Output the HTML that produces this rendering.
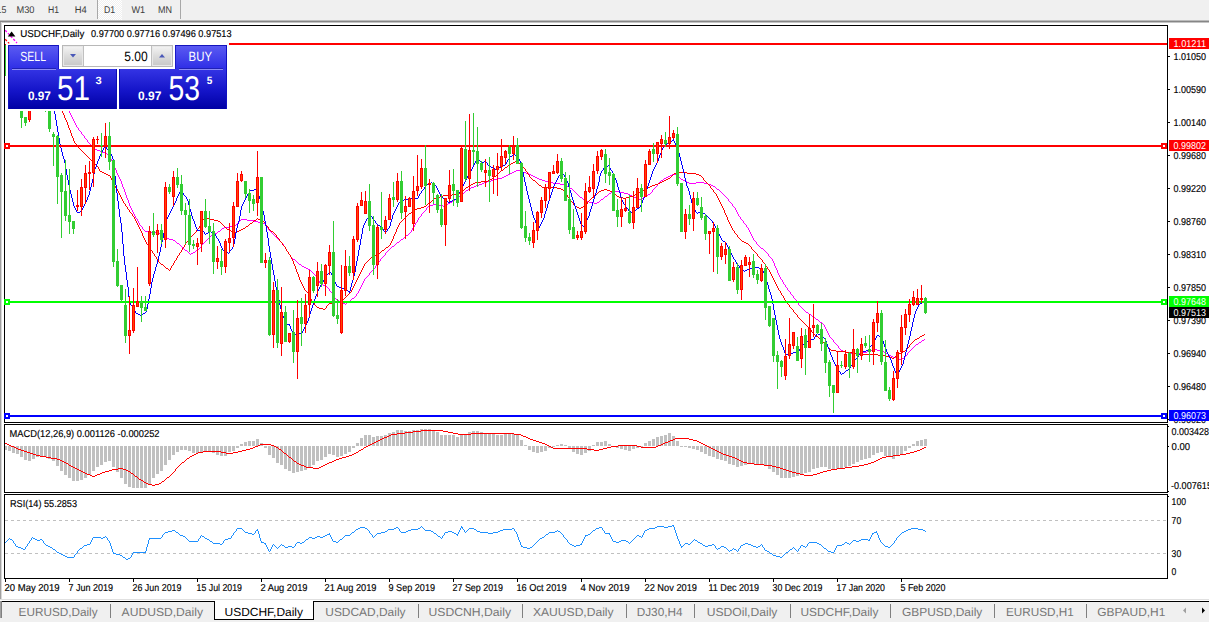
<!DOCTYPE html>
<html><head><meta charset="utf-8"><title>USDCHF Daily</title>
<style>html,body{margin:0;padding:0;background:#f0f0f0;font-family:"Liberation Sans",sans-serif;}body{width:1209px;height:622px;overflow:hidden;}svg{display:block;}</style></head>
<body>
<svg width="1209" height="622" viewBox="0 0 1209 622" shape-rendering="crispEdges" font-family="Liberation Sans, sans-serif" text-rendering="geometricPrecision">
<defs>
<linearGradient id="gbtn" x1="0" y1="0" x2="0" y2="1"><stop offset="0" stop-color="#5c5cf2"/><stop offset="1" stop-color="#2c2ce6"/></linearGradient>
<linearGradient id="gprice" x1="0" y1="0" x2="0" y2="1"><stop offset="0" stop-color="#3434e4"/><stop offset="0.55" stop-color="#1414c8"/><stop offset="1" stop-color="#0000a4"/></linearGradient>
<linearGradient id="gspin" x1="0" y1="0" x2="0" y2="1"><stop offset="0" stop-color="#f4f4f4"/><stop offset="0.5" stop-color="#dcdcdc"/><stop offset="1" stop-color="#c8c8c8"/></linearGradient>
<pattern id="hatch" width="2" height="2" patternUnits="userSpaceOnUse"><rect width="2" height="2" fill="#f0f0f0"/><rect width="1" height="1" fill="#fff"/><rect x="1" y="1" width="1" height="1" fill="#fff"/></pattern>
<clipPath id="cmain"><rect x="5" y="26" width="1162" height="396"/></clipPath>
<clipPath id="cmacd"><rect x="5" y="425" width="1162" height="67"/></clipPath>
<clipPath id="crsi"><rect x="5" y="495" width="1162" height="83"/></clipPath>
</defs>
<rect x="0" y="0" width="1209" height="622" fill="#f0f0f0"/>
<rect x="98" y="0" width="24" height="20" fill="url(#hatch)"/>
<rect x="97" y="0" width="1" height="19" fill="#a8a8a8"/>
<rect x="180" y="0" width="1" height="19" fill="#a8a8a8"/>
<text x="-3.5" y="13" font-size="9.8" fill="#3c3c3c" text-anchor="start" font-weight="normal" textLength="9.8" lengthAdjust="spacingAndGlyphs">15</text>
<text x="16.5" y="13" font-size="9.8" fill="#3c3c3c" text-anchor="start" font-weight="normal" textLength="18" lengthAdjust="spacingAndGlyphs">M30</text>
<text x="48" y="13" font-size="9.8" fill="#3c3c3c" text-anchor="start" font-weight="normal" textLength="11" lengthAdjust="spacingAndGlyphs">H1</text>
<text x="74.8" y="13" font-size="9.8" fill="#3c3c3c" text-anchor="start" font-weight="normal" textLength="12" lengthAdjust="spacingAndGlyphs">H4</text>
<text x="103.9" y="13" font-size="9.8" fill="#3c3c3c" text-anchor="start" font-weight="normal" textLength="11.2" lengthAdjust="spacingAndGlyphs">D1</text>
<text x="131.5" y="13" font-size="9.8" fill="#3c3c3c" text-anchor="start" font-weight="normal" textLength="13.7" lengthAdjust="spacingAndGlyphs">W1</text>
<text x="158" y="13" font-size="9.8" fill="#3c3c3c" text-anchor="start" font-weight="normal" textLength="14" lengthAdjust="spacingAndGlyphs">MN</text>
<rect x="0" y="20" width="1209" height="1" fill="#bcbcbc"/>
<rect x="0" y="21" width="1209" height="1" fill="#868686"/>
<rect x="0" y="22" width="1209" height="578" fill="#ffffff"/>
<rect x="0" y="22" width="1209" height="1" fill="#c4c4c4"/>
<rect x="0" y="22" width="1" height="600" fill="#a0a0a0"/>
<rect x="1" y="22" width="1" height="578" fill="#d8d8d8"/>
<rect x="4" y="25" width="1164" height="1" fill="#000"/>
<rect x="4" y="25" width="1" height="554" fill="#000"/>
<rect x="1167" y="25" width="1" height="554" fill="#000"/>
<rect x="4" y="422" width="1164" height="1" fill="#000"/>
<rect x="4" y="424" width="1164" height="1" fill="#000"/>
<rect x="4" y="492" width="1164" height="1" fill="#000"/>
<rect x="4" y="494" width="1164" height="1" fill="#000"/>
<rect x="4" y="578" width="1164" height="1" fill="#000"/>
<rect x="4" y="423" width="1" height="1" fill="#fff"/>
<rect x="1167" y="423" width="1" height="1" fill="#fff"/>
<rect x="4" y="493" width="1" height="1" fill="#fff"/>
<rect x="1167" y="493" width="1" height="1" fill="#fff"/>
<g clip-path="url(#cmain)">
<rect x="5" y="45" width="1" height="31" fill="#32cd32"/>
<polyline points="5.2,30.2 17.0,43.0" fill="none" stroke="#ff00ff" stroke-width="1.3" stroke-dasharray="2.4,1.6" shape-rendering="geometricPrecision"/>
<polyline points="5.2,39.2 9.2,43.4" fill="none" stroke="#ff0000" stroke-width="1.3" stroke-dasharray="2.4,1.6" shape-rendering="geometricPrecision"/>
<rect x="5" y="44" width="1" height="1" fill="#ff0000"/>
<path d="M193 252h2v1h-2zM482 183h2v1h-2zM553 183h7v1h-7zM689 183h7v1h-7zM704 183h4v1h-4zM102 152h3v1h-3zM514 171h2v1h-2zM520 171h3v1h-3zM609 193h2v1h-2zM624 193h4v1h-4zM504 176h2v1h-2zM533 176h2v1h-2zM668 176h2v1h-2zM677 176h2v1h-2zM429 205h4v1h-4zM439 205h4v1h-4zM445 205h2v1h-2zM352 298h2v1h-2zM611 192h4v1h-4zM619 192h5v1h-5zM637 198h2v1h-2zM641 198h2v1h-2zM177 243h2v1h-2zM586 201h3v1h-3zM323 285h2v1h-2zM162 235h2v1h-2zM211 235h2v1h-2zM406 235h2v1h-2zM258 222h4v1h-4zM160 234h2v1h-2zM213 234h2v1h-2zM173 240h2v1h-2zM191 253h2v1h-2zM302 266h2v1h-2zM848 353h14v1h-14zM886 353h2v1h-2zM450 202h2v1h-2zM589 202h5v1h-5zM597 202h2v1h-2zM306 268h2v1h-2zM510 173h2v1h-2zM526 173h3v1h-3zM479 184h3v1h-3zM560 184h5v1h-5zM708 184h3v1h-3zM491 180h3v1h-3zM542 180h3v1h-3zM661 180h2v1h-2zM683 180h2v1h-2zM222 228h2v1h-2zM471 187h3v1h-3zM841 350h2v1h-2zM871 350h2v1h-2zM877 350h4v1h-4zM149 232h7v1h-7zM601 199h2v1h-2zM639 199h2v1h-2zM308 269h2v1h-2zM484 182h3v1h-3zM549 182h4v1h-4zM687 182h2v1h-2zM696 182h8v1h-8zM224 227h6v1h-6zM339 301h2v1h-2zM145 231h4v1h-4zM218 231h2v1h-2zM397 242h2v1h-2zM487 181h4v1h-4zM545 181h4v1h-4zM685 181h2v1h-2zM341 302h2v1h-2zM347 302h2v1h-2zM916 344h2v1h-2zM843 351h3v1h-3zM867 351h4v1h-4zM881 351h3v1h-3zM392 246h2v1h-2zM615 191h4v1h-4zM896 358h2v1h-2zM902 358h2v1h-2zM498 178h4v1h-4zM537 178h2v1h-2zM664 178h2v1h-2zM325 286h2v1h-2zM508 174h2v1h-2zM529 174h2v1h-2zM672 174h4v1h-4zM247 220h7v1h-7zM304 267h2v1h-2zM343 303h2v1h-2zM898 359h4v1h-4zM336 299h2v1h-2zM889 355h2v1h-2zM506 175h2v1h-2zM531 175h2v1h-2zM670 175h2v1h-2zM494 179h4v1h-4zM539 179h3v1h-3zM681 179h2v1h-2zM605 196h2v1h-2zM632 196h2v1h-2zM448 203h2v1h-2zM594 203h3v1h-3zM476 185h3v1h-3zM565 185h2v1h-2zM711 185h2v1h-2zM516 170h4v1h-4zM299 264h2v1h-2zM846 352h2v1h-2zM862 352h5v1h-5zM884 352h2v1h-2zM321 284h2v1h-2zM156 233h4v1h-4zM215 233h2v1h-2zM893 357h3v1h-3zM241 219h6v1h-6zM254 221h4v1h-4zM469 188h2v1h-2zM570 188h2v1h-2zM169 239h4v1h-4zM401 239h2v1h-2zM230 226h5v1h-5zM873 349h4v1h-4zM761 248h2v1h-2zM717 189h2v1h-2zM262 223h3v1h-3zM474 186h2v1h-2zM567 186h2v1h-2zM713 186h2v1h-2zM630 195h2v1h-2zM646 195h2v1h-2zM433 204h6v1h-6zM453 200h2v1h-2zM584 200h2v1h-2zM457 197h2v1h-2zM580 197h2v1h-2zM634 197h3v1h-3zM643 197h2v1h-2zM502 177h2v1h-2zM535 177h2v1h-2zM666 177h2v1h-2zM185 250h2v1h-2zM196 250h2v1h-2zM167 238h2v1h-2zM816 319h2v1h-2zM97 150h3v1h-3zM461 194h2v1h-2zM628 194h2v1h-2zM648 194h2v1h-2zM293 259h2v1h-2zM809 314h2v1h-2zM512 172h2v1h-2zM523 172h3v1h-3zM100 151h2v1h-2zM922 340h2v1h-2zM466 190h2v1h-2zM891 356h2v1h-2zM95 149h2v1h-2zM165 237h2v1h-2zM443 206h2v1h-2zM820 322h2v1h-2zM919 342h2v1h-2zM813 317h2v1h-2zM105 153h2v1h-2zM806 312h2v1h-2zM808 313h1v1h-1zM116 170h1v3h-1zM376 265h1v1h-1zM721 192h1v1h-1zM127 198h1v2h-1zM76 125h1v2h-1zM198 249h1v1h-1zM396 243h1v1h-1zM361 285h1v2h-1zM793 296h1v2h-1zM419 217h1v1h-1zM274 235h1v1h-1zM221 229h1v1h-1zM138 221h1v2h-1zM826 329h1v2h-1zM400 240h1v1h-1zM767 253h1v1h-1zM80 131h1v1h-1zM775 266h1v2h-1zM113 163h1v3h-1zM368 275h1v1h-1zM371 271h1v1h-1zM134 214h1v2h-1zM142 227h1v2h-1zM768 254h1v2h-1zM51 81h1v2h-1zM123 187h1v2h-1zM583 199h1v1h-1zM131 208h1v2h-1zM728 199h1v2h-1zM749 230h1v2h-1zM415 223h1v2h-1zM360 287h1v2h-1zM384 255h1v1h-1zM281 242h1v1h-1zM924 339h1v1h-1zM427 207h1v1h-1zM201 245h1v2h-1zM282 243h1v1h-1zM652 190h1v2h-1zM189 253h1v1h-1zM379 261h1v1h-1zM267 227h1v1h-1zM190 254h1v1h-1zM75 123h1v2h-1zM411 230h1v2h-1zM356 294h1v2h-1zM72 117h1v2h-1zM829 335h1v2h-1zM822 323h1v1h-1zM137 219h1v2h-1zM833 340h1v2h-1zM774 263h1v3h-1zM715 187h1v1h-1zM803 309h1v1h-1zM823 324h1v1h-1zM387 251h1v1h-1zM727 198h1v1h-1zM90 144h1v1h-1zM756 242h1v2h-1zM716 188h1v1h-1zM745 224h1v1h-1zM54 86h1v2h-1zM804 310h1v1h-1zM266 226h1v1h-1zM655 187h1v1h-1zM840 349h1v1h-1zM658 183h1v1h-1zM285 247h1v2h-1zM572 189h1v1h-1zM913 347h1v1h-1zM464 192h1v1h-1zM126 195h1v3h-1zM792 295h1v1h-1zM578 195h1v1h-1zM79 130h1v1h-1zM314 274h1v1h-1zM422 213h1v1h-1zM468 189h1v1h-1zM579 196h1v1h-1zM825 327h1v2h-1zM140 225h1v1h-1zM796 300h1v2h-1zM828 333h1v2h-1zM115 168h1v2h-1zM133 212h1v2h-1zM141 226h1v1h-1zM770 257h1v1h-1zM108 155h1v2h-1zM239 221h1v1h-1zM57 91h1v2h-1zM65 104h1v2h-1zM752 236h1v2h-1zM68 109h1v2h-1zM771 258h1v1h-1zM755 241h1v1h-1zM375 266h1v2h-1zM50 80h1v1h-1zM130 206h1v2h-1zM265 224h1v2h-1zM748 228h1v2h-1zM288 252h1v2h-1zM391 247h1v1h-1zM269 230h1v1h-1zM818 320h1v1h-1zM208 238h1v1h-1zM78 128h1v2h-1zM220 230h1v1h-1zM763 249h1v1h-1zM824 325h1v2h-1zM832 339h1v1h-1zM71 115h1v2h-1zM295 260h1v1h-1zM795 299h1v1h-1zM367 276h1v1h-1zM911 349h1v1h-1zM769 256h1v1h-1zM82 134h1v1h-1zM60 96h1v2h-1zM414 225h1v2h-1zM132 210h1v2h-1zM184 249h1v1h-1zM729 201h1v1h-1zM112 161h1v2h-1zM908 352h1v1h-1zM604 197h1v1h-1zM53 85h1v1h-1zM56 89h1v2h-1zM64 103h1v1h-1zM730 202h1v1h-1zM751 234h1v2h-1zM122 184h1v3h-1zM608 194h1v1h-1zM418 218h1v2h-1zM421 214h1v2h-1zM313 273h1v1h-1zM284 246h1v1h-1zM378 262h1v1h-1zM119 177h1v2h-1zM81 132h1v2h-1zM317 278h1v2h-1zM125 192h1v3h-1zM74 121h1v2h-1zM370 272h1v1h-1zM680 178h1v1h-1zM114 166h1v2h-1zM722 193h1v1h-1zM831 338h1v1h-1zM657 184h1v2h-1zM143 229h1v1h-1zM107 154h1v1h-1zM70 113h1v2h-1zM799 305h1v1h-1zM773 261h1v2h-1zM386 252h1v1h-1zM63 101h1v2h-1zM283 244h1v2h-1zM455 199h1v1h-1zM111 159h1v2h-1zM200 247h1v1h-1zM286 249h1v2h-1zM52 83h1v2h-1zM129 203h1v3h-1zM203 243h1v1h-1zM447 204h1v1h-1zM654 188h1v1h-1zM424 211h1v1h-1zM747 227h1v1h-1zM750 232h1v2h-1zM758 245h1v1h-1zM459 196h1v1h-1zM381 258h1v1h-1zM287 251h1v1h-1zM327 287h1v1h-1zM573 190h1v1h-1zM268 228h1v2h-1zM780 277h1v2h-1zM328 288h1v1h-1zM574 191h1v1h-1zM783 282h1v2h-1zM794 298h1v1h-1zM118 175h1v2h-1zM345 304h1v1h-1zM784 284h1v1h-1zM389 249h1v1h-1zM275 236h1v1h-1zM907 353h1v2h-1zM827 331h1v2h-1zM73 119h1v2h-1zM404 237h1v1h-1zM798 303h1v2h-1zM276 237h1v1h-1zM660 181h1v1h-1zM181 246h1v1h-1zM55 88h1v1h-1zM772 259h1v2h-1zM417 220h1v2h-1zM59 94h1v2h-1zM67 107h1v2h-1zM732 204h1v2h-1zM740 217h1v2h-1zM915 345h1v1h-1zM210 236h1v1h-1zM290 255h1v2h-1zM733 206h1v1h-1zM463 193h1v1h-1zM746 225h1v2h-1zM736 210h1v2h-1zM805 311h1v1h-1zM92 146h1v1h-1zM121 181h1v3h-1zM676 175h1v1h-1zM369 273h1v2h-1zM316 276h1v2h-1zM779 275h1v2h-1zM787 288h1v2h-1zM645 196h1v1h-1zM319 281h1v2h-1zM349 301h1v1h-1zM320 283h1v1h-1zM179 244h1v1h-1zM364 279h1v2h-1zM408 234h1v1h-1zM69 111h1v2h-1zM599 201h1v1h-1zM180 245h1v1h-1zM834 342h1v1h-1zM765 251h1v1h-1zM62 99h1v2h-1zM377 263h1v2h-1zM569 187h1v1h-1zM91 145h1v1h-1zM603 198h1v1h-1zM110 158h1v1h-1zM338 300h1v1h-1zM835 343h1v1h-1zM66 106h1v1h-1zM289 254h1v1h-1zM301 265h1v1h-1zM830 337h1v1h-1zM207 239h1v1h-1zM782 280h1v2h-1zM120 179h1v2h-1zM128 200h1v3h-1zM315 275h1v1h-1zM786 287h1v1h-1zM819 321h1v1h-1zM921 341h1v1h-1zM910 350h1v1h-1zM797 302h1v1h-1zM84 136h1v2h-1zM124 189h1v3h-1zM764 250h1v1h-1zM164 236h1v1h-1zM195 251h1v1h-1zM109 157h1v1h-1zM724 195h1v1h-1zM905 356h1v1h-1zM58 93h1v1h-1zM61 98h1v1h-1zM420 216h1v1h-1zM738 214h1v2h-1zM423 212h1v1h-1zM815 318h1v1h-1zM236 224h1v1h-1zM731 203h1v1h-1zM739 216h1v1h-1zM329 289h1v2h-1zM372 270h1v1h-1zM175 241h1v1h-1zM395 244h1v1h-1zM778 273h1v2h-1zM270 231h1v1h-1zM330 291h1v1h-1zM176 242h1v1h-1zM117 173h1v2h-1zM271 232h1v1h-1zM388 250h1v1h-1zM790 292h1v2h-1zM359 289h1v2h-1zM205 241h1v1h-1zM296 261h1v1h-1zM656 186h1v1h-1zM426 208h1v2h-1zM465 191h1v1h-1zM83 135h1v1h-1zM277 238h1v1h-1zM380 259h1v2h-1zM383 256h1v1h-1zM202 244h1v1h-1zM297 262h1v1h-1zM720 191h1v1h-1zM144 230h1v1h-1zM800 306h1v1h-1zM278 239h1v1h-1zM87 140h1v2h-1zM651 192h1v1h-1zM735 208h1v2h-1zM410 232h1v1h-1zM785 285h1v2h-1zM399 241h1v1h-1zM94 148h1v1h-1zM318 280h1v1h-1zM760 247h1v1h-1zM781 279h1v1h-1zM403 238h1v1h-1zM575 192h1v1h-1zM659 182h1v1h-1zM723 194h1v1h-1zM663 179h1v1h-1zM811 315h1v1h-1zM737 212h1v2h-1zM182 247h1v1h-1zM836 344h1v1h-1zM93 147h1v1h-1zM759 246h1v1h-1zM837 345h1v1h-1zM741 219h1v1h-1zM912 348h1v1h-1zM351 299h1v1h-1zM291 257h1v1h-1zM310 270h1v1h-1zM363 281h1v2h-1zM734 207h1v1h-1zM452 201h1v1h-1zM240 220h1v1h-1zM292 258h1v1h-1zM311 271h1v1h-1zM332 293h1v2h-1zM355 296h1v1h-1zM777 270h1v3h-1zM788 290h1v1h-1zM719 190h1v1h-1zM85 138h1v1h-1zM374 268h1v1h-1zM904 357h1v1h-1zM86 139h1v1h-1zM209 237h1v1h-1zM390 248h1v1h-1zM888 354h1v1h-1zM582 198h1v1h-1zM358 291h1v2h-1zM456 198h1v1h-1zM385 253h1v2h-1zM331 292h1v1h-1zM273 234h1v1h-1zM766 252h1v1h-1zM235 225h1v1h-1zM298 263h1v1h-1zM362 283h1v2h-1zM394 245h1v1h-1zM89 143h1v1h-1zM744 223h1v1h-1zM366 277h1v1h-1zM413 227h1v1h-1zM204 242h1v1h-1zM335 298h1v1h-1zM425 210h1v1h-1zM428 206h1v1h-1zM238 222h1v1h-1zM460 195h1v1h-1zM382 257h1v1h-1zM272 233h1v1h-1zM791 294h1v1h-1zM577 194h1v1h-1zM607 195h1v1h-1zM199 248h1v1h-1zM650 193h1v1h-1zM725 196h1v1h-1zM776 268h1v2h-1zM653 189h1v1h-1zM139 223h1v2h-1zM346 303h1v1h-1zM726 197h1v1h-1zM838 346h1v2h-1zM279 240h1v1h-1zM405 236h1v1h-1zM350 300h1v1h-1zM839 348h1v1h-1zM743 221h1v2h-1zM802 308h1v1h-1zM280 241h1v1h-1zM187 251h1v1h-1zM409 233h1v1h-1zM188 252h1v1h-1zM334 296h1v2h-1zM416 222h1v1h-1zM914 346h1v1h-1zM801 307h1v1h-1zM135 216h1v2h-1zM812 316h1v1h-1zM88 142h1v1h-1zM753 238h1v2h-1zM918 343h1v1h-1zM136 218h1v1h-1zM754 240h1v1h-1zM354 297h1v1h-1zM412 228h1v2h-1zM357 293h1v1h-1zM600 200h1v1h-1zM576 193h1v1h-1zM312 272h1v1h-1zM333 295h1v1h-1zM373 269h1v1h-1zM77 127h1v1h-1zM217 232h1v1h-1zM679 177h1v1h-1zM183 248h1v1h-1zM206 240h1v1h-1zM742 220h1v1h-1zM365 278h1v1h-1zM906 355h1v1h-1zM909 351h1v1h-1zM757 244h1v1h-1zM789 291h1v1h-1zM237 223h1v1h-1z" fill="#ff00ff"/>
<path d="M922 335h2v1h-2zM613 193h2v1h-2zM637 193h2v1h-2zM206 218h4v1h-4zM481 181h7v1h-7zM662 181h2v1h-2zM417 208h4v1h-4zM579 208h2v1h-2zM436 197h4v1h-4zM619 197h4v1h-4zM626 197h4v1h-4zM421 207h3v1h-3zM577 207h2v1h-2zM581 207h2v1h-2zM601 190h3v1h-3zM607 190h3v1h-3zM643 190h2v1h-2zM466 187h2v1h-2zM542 187h15v1h-15zM648 187h2v1h-2zM443 195h9v1h-9zM594 195h2v1h-2zM633 195h2v1h-2zM378 253h2v1h-2zM505 167h2v1h-2zM471 184h2v1h-2zM655 184h3v1h-3zM104 173h2v1h-2zM674 173h3v1h-3zM687 173h9v1h-9zM856 354h22v1h-22zM452 194h7v1h-7zM635 194h2v1h-2zM845 352h7v1h-7zM901 352h2v1h-2zM232 232h2v1h-2zM235 232h2v1h-2zM386 247h2v1h-2zM468 186h2v1h-2zM650 186h2v1h-2zM461 191h2v1h-2zM599 191h2v1h-2zM610 191h2v1h-2zM641 191h2v1h-2zM744 242h2v1h-2zM227 229h2v1h-2zM241 229h2v1h-2zM440 196h3v1h-3zM617 196h2v1h-2zM630 196h3v1h-3zM473 183h2v1h-2zM658 183h2v1h-2zM218 221h2v1h-2zM262 221h2v1h-2zM424 206h2v1h-2zM575 206h2v1h-2zM583 206h2v1h-2zM746 243h2v1h-2zM246 226h2v1h-2zM639 192h2v1h-2zM490 179h2v1h-2zM666 179h2v1h-2zM475 182h6v1h-6zM660 182h2v1h-2zM319 308h4v1h-4zM557 188h4v1h-4zM646 188h2v1h-2zM434 198h2v1h-2zM623 198h3v1h-3zM214 220h4v1h-4zM254 220h2v1h-2zM260 220h2v1h-2zM203 219h3v1h-3zM210 219h4v1h-4zM258 219h2v1h-2zM108 175h2v1h-2zM699 175h2v1h-2zM375 255h2v1h-2zM915 339h2v1h-2zM102 172h2v1h-2zM677 172h10v1h-10zM878 355h7v1h-7zM831 350h5v1h-5zM889 357h3v1h-3zM323 309h2v1h-2zM243 228h2v1h-2zM333 302h5v1h-5zM836 351h9v1h-9zM903 351h2v1h-2zM237 231h2v1h-2zM271 231h2v1h-2zM668 178h2v1h-2zM539 185h2v1h-2zM652 185h3v1h-3zM340 300h2v1h-2zM488 180h2v1h-2zM533 180h2v1h-2zM664 180h2v1h-2zM885 356h4v1h-4zM895 356h2v1h-2zM494 176h2v1h-2zM250 223h2v1h-2zM100 171h2v1h-2zM511 163h2v1h-2zM816 336h2v1h-2zM920 336h2v1h-2zM371 257h2v1h-2zM501 170h2v1h-2zM415 209h2v1h-2zM229 230h2v1h-2zM239 230h2v1h-2zM515 161h2v1h-2zM106 174h2v1h-2zM696 174h3v1h-3zM852 353h4v1h-4zM899 353h2v1h-2zM317 307h2v1h-2zM892 358h2v1h-2zM513 162h2v1h-2zM517 162h2v1h-2zM166 268h2v1h-2zM409 213h2v1h-2zM342 299h2v1h-2zM161 264h2v1h-2zM561 189h2v1h-2zM604 189h3v1h-3zM373 256h2v1h-2zM329 303h4v1h-4zM413 210h2v1h-2zM382 250h2v1h-2zM338 301h2v1h-2zM742 241h2v1h-2zM509 164h2v1h-2zM429 202h2v1h-2zM917 338h2v1h-2zM72 136h1v2h-1zM914 340h1v1h-1zM749 245h1v1h-1zM349 293h1v1h-1zM352 288h1v2h-1zM568 197h1v1h-1zM127 207h1v2h-1zM97 166h1v1h-1zM58 92h1v5h-1zM179 253h1v2h-1zM400 222h1v1h-1zM117 189h1v2h-1zM120 195h1v2h-1zM909 345h1v2h-1zM727 217h1v3h-1zM756 253h1v1h-1zM98 167h1v2h-1zM54 75h1v5h-1zM527 172h1v2h-1zM51 63h1v4h-1zM62 109h1v4h-1zM141 231h1v2h-1zM183 247h1v1h-1zM281 242h1v1h-1zM299 277h1v3h-1zM396 229h1v3h-1zM361 270h1v2h-1zM68 125h1v3h-1zM126 206h1v1h-1zM282 243h1v2h-1zM138 225h1v2h-1zM598 192h1v1h-1zM748 244h1v1h-1zM119 193h1v2h-1zM898 354h1v1h-1zM325 308h1v1h-1zM194 233h1v1h-1zM591 198h1v1h-1zM115 186h1v2h-1zM395 232h1v2h-1zM821 340h1v1h-1zM407 215h1v1h-1zM741 240h1v1h-1zM924 334h1v1h-1zM116 188h1v1h-1zM778 288h1v2h-1zM822 341h1v1h-1zM586 204h1v1h-1zM894 357h1v1h-1zM792 309h1v1h-1zM295 266h1v3h-1zM313 302h1v1h-1zM811 330h1v2h-1zM61 105h1v4h-1zM159 262h1v1h-1zM499 172h1v1h-1zM344 298h1v1h-1zM708 184h1v1h-1zM465 188h1v1h-1zM356 280h1v2h-1zM828 347h1v1h-1zM285 247h1v2h-1zM298 274h1v3h-1zM392 239h1v2h-1zM492 178h1v1h-1zM709 185h1v1h-1zM616 195h1v1h-1zM829 348h1v1h-1zM57 88h1v4h-1zM220 222h1v1h-1zM197 229h1v1h-1zM137 223h1v2h-1zM671 176h1v1h-1zM78 147h1v1h-1zM118 191h1v2h-1zM567 195h1v2h-1zM221 223h1v1h-1zM570 199h1v2h-1zM130 212h1v1h-1zM803 322h1v1h-1zM71 133h1v3h-1zM79 148h1v1h-1zM368 260h1v1h-1zM726 215h1v2h-1zM411 212h1v1h-1zM519 163h1v1h-1zM571 201h1v1h-1zM182 248h1v2h-1zM380 252h1v1h-1zM112 180h1v2h-1zM525 169h1v2h-1zM360 272h1v2h-1zM701 176h1v1h-1zM759 257h1v1h-1zM781 293h1v2h-1zM85 154h1v1h-1zM363 266h1v2h-1zM589 200h1v1h-1zM67 122h1v3h-1zM503 169h1v1h-1zM526 171h1v1h-1zM50 60h1v3h-1zM201 222h1v2h-1zM723 208h1v2h-1zM86 155h1v1h-1zM158 260h1v2h-1zM186 242h1v1h-1zM189 238h1v2h-1zM292 259h1v2h-1zM433 199h1v1h-1zM507 166h1v1h-1zM265 223h1v2h-1zM795 313h1v1h-1zM399 223h1v2h-1zM496 175h1v1h-1zM129 210h1v2h-1zM60 101h1v4h-1zM231 231h1v1h-1zM402 220h1v1h-1zM769 270h1v2h-1zM140 229h1v2h-1zM288 252h1v2h-1zM426 205h1v1h-1zM266 225h1v1h-1zM56 84h1v4h-1zM125 204h1v2h-1zM64 115h1v3h-1zM93 162h1v1h-1zM751 247h1v2h-1zM165 267h1v1h-1zM802 321h1v1h-1zM752 249h1v1h-1zM725 213h1v2h-1zM784 298h1v2h-1zM273 232h1v1h-1zM294 264h1v2h-1zM111 178h1v2h-1zM529 175h1v2h-1zM777 286h1v2h-1zM612 192h1v1h-1zM172 265h1v1h-1zM809 328h1v1h-1zM316 306h1v1h-1zM722 206h1v2h-1zM810 329h1v1h-1zM351 290h1v2h-1zM394 234h1v2h-1zM291 257h1v2h-1zM711 188h1v1h-1zM762 260h1v2h-1zM732 228h1v2h-1zM136 221h1v2h-1zM284 246h1v1h-1zM139 227h1v2h-1zM733 230h1v1h-1zM92 161h1v1h-1zM121 197h1v2h-1zM132 214h1v2h-1zM53 71h1v4h-1zM908 347h1v1h-1zM73 138h1v3h-1zM750 246h1v1h-1zM729 222h1v2h-1zM362 268h1v2h-1zM573 203h1v2h-1zM133 216h1v1h-1zM114 184h1v2h-1zM780 291h1v2h-1zM185 243h1v2h-1zM703 178h1v2h-1zM574 205h1v1h-1zM783 296h1v2h-1zM70 130h1v3h-1zM398 225h1v2h-1zM794 312h1v1h-1zM528 174h1v1h-1zM776 284h1v2h-1zM283 245h1v1h-1zM673 174h1v1h-1zM147 244h1v1h-1zM160 263h1v1h-1zM286 249h1v2h-1zM824 343h1v1h-1zM710 186h1v2h-1zM370 258h1v1h-1zM196 230h1v2h-1zM287 251h1v1h-1zM593 196h1v1h-1zM181 250h1v2h-1zM327 305h1v1h-1zM66 120h1v2h-1zM268 227h1v2h-1zM249 224h1v1h-1zM193 234h1v1h-1zM59 97h1v4h-1zM135 219h1v2h-1zM176 258h1v2h-1zM406 216h1v1h-1zM253 221h1v1h-1zM200 224h1v2h-1zM222 224h1v1h-1zM536 182h1v1h-1zM357 278h1v2h-1zM52 67h1v4h-1zM911 343h1v1h-1zM80 149h1v1h-1zM346 296h1v1h-1zM113 182h1v2h-1zM393 236h1v3h-1zM223 225h1v1h-1zM786 301h1v2h-1zM110 176h1v2h-1zM498 173h1v1h-1zM81 150h1v1h-1zM779 290h1v1h-1zM428 203h1v1h-1zM787 303h1v1h-1zM146 242h1v2h-1zM721 204h1v2h-1zM793 310h1v2h-1zM199 226h1v2h-1zM143 236h1v2h-1zM724 210h1v3h-1zM290 255h1v2h-1zM761 259h1v1h-1zM812 332h1v1h-1zM293 261h1v3h-1zM765 264h1v2h-1zM731 226h1v2h-1zM131 213h1v1h-1zM297 272h1v2h-1zM257 218h1v1h-1zM535 181h1v1h-1zM728 220h1v2h-1zM55 80h1v4h-1zM753 250h1v1h-1zM188 240h1v1h-1zM365 263h1v1h-1zM191 236h1v1h-1zM588 201h1v1h-1zM782 295h1v1h-1zM906 349h1v1h-1zM823 342h1v1h-1zM520 164h1v1h-1zM754 251h1v1h-1zM404 218h1v1h-1zM432 200h1v1h-1zM775 282h1v2h-1zM304 288h1v2h-1zM150 248h1v2h-1zM276 235h1v2h-1zM760 258h1v1h-1zM797 315h1v2h-1zM720 202h1v2h-1zM175 260h1v1h-1zM289 254h1v1h-1zM87 156h1v1h-1zM65 118h1v2h-1zM713 190h1v2h-1zM830 349h1v1h-1zM734 231h1v2h-1zM354 284h1v2h-1zM735 233h1v1h-1zM267 226h1v1h-1zM296 269h1v3h-1zM804 323h1v1h-1zM134 217h1v2h-1zM171 266h1v2h-1zM94 163h1v1h-1zM572 202h1v1h-1zM384 249h1v1h-1zM702 177h1v1h-1zM145 240h1v2h-1zM388 246h1v1h-1zM274 233h1v1h-1zM774 280h1v2h-1zM303 286h1v2h-1zM530 177h1v1h-1zM311 299h1v2h-1zM790 307h1v1h-1zM69 128h1v2h-1zM149 247h1v1h-1zM275 234h1v1h-1zM377 254h1v1h-1zM401 221h1v1h-1zM369 259h1v1h-1zM531 178h1v1h-1zM719 200h1v2h-1zM796 314h1v1h-1zM142 233h1v3h-1zM348 294h1v1h-1zM248 225h1v1h-1zM712 189h1v1h-1zM730 224h1v2h-1zM364 264h1v2h-1zM470 185h1v1h-1zM587 202h1v2h-1zM76 144h1v2h-1zM785 300h1v1h-1zM391 241h1v2h-1zM148 245h1v2h-1zM541 186h1v1h-1zM789 305h1v2h-1zM144 238h1v2h-1zM152 251h1v2h-1zM195 232h1v1h-1zM198 228h1v1h-1zM913 341h1v1h-1zM705 181h1v1h-1zM310 297h1v2h-1zM408 214h1v1h-1zM763 262h1v1h-1zM771 274h1v2h-1zM178 255h1v1h-1zM252 222h1v1h-1zM170 268h1v2h-1zM590 199h1v1h-1zM716 194h1v2h-1zM767 267h1v2h-1zM202 220h1v2h-1zM737 235h1v2h-1zM500 171h1v1h-1zM269 229h1v1h-1zM564 191h1v2h-1zM123 201h1v2h-1zM818 337h1v1h-1zM270 230h1v1h-1zM504 168h1v1h-1zM427 204h1v1h-1zM174 261h1v2h-1zM355 282h1v2h-1zM537 183h1v1h-1zM905 350h1v1h-1zM704 180h1v1h-1zM897 355h1v1h-1zM224 226h1v1h-1zM302 284h1v2h-1zM82 151h1v1h-1zM825 344h1v1h-1zM788 304h1v1h-1zM151 250h1v1h-1zM277 237h1v1h-1zM306 291h1v1h-1zM597 193h1v1h-1zM670 177h1v1h-1zM770 272h1v2h-1zM799 318h1v1h-1zM814 334h1v1h-1zM367 261h1v1h-1zM89 158h1v1h-1zM715 193h1v1h-1zM390 243h1v2h-1zM359 274h1v2h-1zM736 234h1v1h-1zM190 237h1v1h-1zM563 190h1v1h-1zM403 219h1v1h-1zM585 205h1v1h-1zM460 192h1v1h-1zM464 189h1v1h-1zM177 256h1v2h-1zM773 278h1v2h-1zM755 252h1v1h-1zM813 333h1v1h-1zM305 290h1v1h-1zM718 198h1v2h-1zM798 317h1v1h-1zM532 179h1v1h-1zM766 266h1v1h-1zM74 141h1v2h-1zM173 263h1v2h-1zM122 199h1v2h-1zM919 337h1v1h-1zM805 324h1v1h-1zM63 113h1v2h-1zM521 165h1v1h-1zM806 325h1v1h-1zM350 292h1v1h-1zM522 166h1v1h-1zM912 342h1v1h-1zM154 254h1v2h-1zM772 276h1v2h-1zM301 282h1v2h-1zM309 295h1v2h-1zM791 308h1v1h-1zM88 157h1v1h-1zM312 301h1v1h-1zM155 256h1v1h-1zM714 192h1v1h-1zM717 196h1v2h-1zM907 348h1v1h-1zM184 245h1v2h-1zM615 194h1v1h-1zM397 227h1v2h-1zM565 193h1v1h-1zM95 164h1v1h-1zM328 304h1v1h-1zM566 194h1v1h-1zM820 339h1v1h-1zM96 165h1v1h-1zM740 239h1v1h-1zM99 169h1v2h-1zM234 233h1v1h-1zM326 306h1v2h-1zM168 269h1v1h-1zM592 197h1v1h-1zM757 254h1v2h-1zM358 276h1v2h-1zM381 251h1v1h-1zM169 270h1v1h-1zM153 253h1v1h-1zM279 239h1v2h-1zM347 295h1v1h-1zM758 256h1v1h-1zM707 183h1v1h-1zM596 194h1v1h-1zM300 280h1v2h-1zM308 293h1v2h-1zM385 248h1v1h-1zM280 241h1v1h-1zM764 263h1v1h-1zM345 297h1v1h-1zM77 146h1v1h-1zM738 237h1v1h-1zM819 338h1v1h-1zM459 193h1v1h-1zM739 238h1v1h-1zM672 175h1v1h-1zM353 286h1v2h-1zM156 257h1v2h-1zM706 182h1v1h-1zM180 252h1v1h-1zM412 211h1v1h-1zM314 303h1v2h-1zM157 259h1v1h-1zM826 345h1v1h-1zM366 262h1v1h-1zM192 235h1v1h-1zM910 344h1v1h-1zM815 335h1v1h-1zM256 219h1v1h-1zM307 292h1v1h-1zM315 305h1v1h-1zM827 346h1v1h-1zM768 269h1v1h-1zM405 217h1v1h-1zM645 189h1v1h-1zM800 319h1v1h-1zM493 177h1v1h-1zM124 203h1v1h-1zM187 241h1v1h-1zM801 320h1v1h-1zM164 266h1v1h-1zM497 174h1v1h-1zM431 201h1v1h-1zM538 184h1v1h-1zM128 209h1v1h-1zM463 190h1v1h-1zM225 227h1v1h-1zM569 198h1v1h-1zM807 326h1v1h-1zM83 152h1v1h-1zM226 228h1v1h-1zM523 167h1v1h-1zM278 238h1v1h-1zM808 327h1v1h-1zM84 153h1v1h-1zM524 168h1v1h-1zM389 245h1v1h-1zM90 159h1v1h-1zM508 165h1v1h-1zM264 222h1v1h-1zM91 160h1v1h-1zM75 143h1v1h-1zM163 265h1v1h-1zM245 227h1v1h-1z" fill="#ff0000"/>
<path d="M427 184h2v1h-2zM433 184h2v1h-2zM703 213h2v1h-2zM478 160h2v1h-2zM369 217h2v1h-2zM796 351h3v1h-3zM863 351h3v1h-3zM223 250h2v1h-2zM495 169h2v1h-2zM179 192h4v1h-4zM400 201h2v1h-2zM450 201h2v1h-2zM503 165h2v1h-2zM77 212h3v1h-3zM631 212h2v1h-2zM698 212h2v1h-2zM701 212h2v1h-2zM742 270h2v1h-2zM745 270h2v1h-2zM791 353h2v1h-2zM820 335h2v1h-2zM877 335h2v1h-2zM287 324h3v1h-3zM404 199h5v1h-5zM444 199h2v1h-2zM454 199h2v1h-2zM197 230h4v1h-4zM367 218h2v1h-2zM341 288h3v1h-3zM879 336h2v1h-2zM80 211h2v1h-2zM629 211h2v1h-2zM633 211h2v1h-2zM348 291h2v1h-2zM339 287h2v1h-2zM250 190h4v1h-4zM409 198h9v1h-9zM402 200h2v1h-2zM452 200h2v1h-2zM344 289h3v1h-3zM293 333h2v1h-2zM297 333h4v1h-4zM201 231h3v1h-3zM209 231h2v1h-2zM667 143h2v1h-2zM559 175h3v1h-3zM920 303h2v1h-2zM136 313h2v1h-2zM143 313h2v1h-2zM747 269h2v1h-2zM761 269h2v1h-2zM510 156h2v1h-2zM140 315h2v1h-2zM754 267h5v1h-5zM489 166h2v1h-2zM501 166h2v1h-2zM606 166h2v1h-2zM637 208h2v1h-2zM378 225h2v1h-2zM581 225h2v1h-2zM481 162h3v1h-3zM785 354h6v1h-6zM429 183h2v1h-2zM295 334h2v1h-2zM818 334h2v1h-2zM866 350h2v1h-2zM895 372h2v1h-2zM206 233h2v1h-2zM213 233h2v1h-2zM491 167h2v1h-2zM499 167h2v1h-2zM604 167h2v1h-2zM806 341h2v1h-2zM254 189h3v1h-3zM562 174h2v1h-2zM328 273h2v1h-2zM793 352h3v1h-3zM861 352h2v1h-2zM448 202h2v1h-2zM211 232h2v1h-2zM475 161h3v1h-3zM484 161h2v1h-2zM749 268h5v1h-5zM759 268h2v1h-2zM846 370h2v1h-2zM809 339h5v1h-5zM493 168h2v1h-2zM497 168h2v1h-2zM301 332h2v1h-2zM337 286h2v1h-2zM842 373h2v1h-2zM897 373h2v1h-2zM226 252h2v1h-2zM665 144h2v1h-2zM138 314h2v1h-2zM723 241h2v1h-2zM512 155h2v1h-2zM670 141h2v1h-2zM672 140h2v1h-2zM648 183h1v3h-1zM129 297h1v6h-1zM125 265h1v7h-1zM814 337h1v2h-1zM57 126h1v6h-1zM545 211h1v3h-1zM771 295h1v4h-1zM232 247h1v2h-1zM519 159h1v2h-1zM424 187h1v2h-1zM530 203h1v4h-1zM784 350h1v3h-1zM51 84h1v8h-1zM914 314h1v4h-1zM269 246h1v6h-1zM94 169h1v5h-1zM249 191h1v2h-1zM260 199h1v4h-1zM279 300h1v5h-1zM473 165h1v2h-1zM419 194h1v2h-1zM533 215h1v3h-1zM263 211h1v4h-1zM122 232h1v12h-1zM652 171h1v3h-1zM155 267h1v4h-1zM905 352h1v4h-1zM113 159h1v7h-1zM776 320h1v5h-1zM245 198h1v2h-1zM236 228h1v5h-1zM392 215h1v4h-1zM102 150h1v2h-1zM128 287h1v10h-1zM726 243h1v2h-1zM777 325h1v5h-1zM66 169h1v6h-1zM526 186h1v5h-1zM50 80h1v4h-1zM168 215h1v2h-1zM159 252h1v4h-1zM909 336h1v4h-1zM621 197h1v3h-1zM290 326h1v3h-1zM590 209h1v3h-1zM119 209h1v8h-1zM273 270h1v5h-1zM360 239h1v6h-1zM529 199h1v4h-1zM828 347h1v2h-1zM150 288h1v6h-1zM115 176h1v9h-1zM572 197h1v3h-1zM176 198h1v3h-1zM376 223h1v1h-1zM871 345h1v1h-1zM239 216h1v5h-1zM544 214h1v4h-1zM577 212h1v3h-1zM59 138h1v6h-1zM773 304h1v6h-1zM832 357h1v3h-1zM643 198h1v2h-1zM581 224h1v1h-1zM163 233h1v5h-1zM194 221h1v3h-1zM53 100h1v8h-1zM651 174h1v3h-1zM154 271h1v3h-1zM93 174h1v5h-1zM272 264h1v6h-1zM567 181h1v2h-1zM721 238h1v2h-1zM468 174h1v2h-1zM118 201h1v8h-1zM265 221h1v5h-1zM244 200h1v2h-1zM391 219h1v3h-1zM336 284h1v2h-1zM282 313h1v3h-1zM356 261h1v5h-1zM548 201h1v3h-1zM659 155h1v3h-1zM235 233h1v6h-1zM556 180h1v2h-1zM179 193h1v1h-1zM56 120h1v6h-1zM779 335h1v4h-1zM464 182h1v2h-1zM589 212h1v4h-1zM917 307h1v2h-1zM359 245h1v5h-1zM124 256h1v9h-1zM88 195h1v2h-1zM52 92h1v8h-1zM908 340h1v4h-1zM383 229h1v2h-1zM121 223h1v9h-1zM216 236h1v2h-1zM691 199h1v4h-1zM308 318h1v3h-1zM278 296h1v4h-1zM642 200h1v3h-1zM127 280h1v7h-1zM717 230h1v2h-1zM92 179h1v4h-1zM112 156h1v3h-1zM304 327h1v2h-1zM593 199h1v3h-1zM912 322h1v5h-1zM153 274h1v4h-1zM858 355h1v2h-1zM114 166h1v10h-1zM123 244h1v12h-1zM55 114h1v6h-1zM684 173h1v5h-1zM622 200h1v2h-1zM903 360h1v4h-1zM65 163h1v6h-1zM547 204h1v4h-1zM390 222h1v4h-1zM120 217h1v6h-1zM234 239h1v5h-1zM274 275h1v6h-1zM888 354h1v2h-1zM827 344h1v3h-1zM658 158h1v3h-1zM165 223h1v5h-1zM816 334h1v2h-1zM130 303h1v2h-1zM916 309h1v2h-1zM849 368h1v1h-1zM587 218h1v2h-1zM398 203h1v2h-1zM772 299h1v5h-1zM87 197h1v3h-1zM677 148h1v2h-1zM895 371h1v1h-1zM157 260h1v4h-1zM907 344h1v4h-1zM68 180h1v5h-1zM126 272h1v8h-1zM521 165h1v3h-1zM71 194h1v4h-1zM149 294h1v5h-1zM680 157h1v4h-1zM307 321h1v2h-1zM583 226h1v1h-1zM193 219h1v2h-1zM764 273h1v3h-1zM641 203h1v2h-1zM271 258h1v6h-1zM911 327h1v4h-1zM767 282h1v3h-1zM303 329h1v2h-1zM592 202h1v4h-1zM161 242h1v5h-1zM857 357h1v1h-1zM902 364h1v2h-1zM91 183h1v4h-1zM768 285h1v4h-1zM731 253h1v2h-1zM852 363h1v2h-1zM152 278h1v4h-1zM778 330h1v5h-1zM354 272h1v4h-1zM311 308h1v3h-1zM486 162h1v1h-1zM898 372h1v1h-1zM868 349h1v1h-1zM397 205h1v2h-1zM116 185h1v8h-1zM690 195h1v4h-1zM218 239h1v2h-1zM156 264h1v3h-1zM117 193h1v8h-1zM705 214h1v1h-1zM611 170h1v1h-1zM172 207h1v2h-1zM715 226h1v2h-1zM393 213h1v2h-1zM774 310h1v5h-1zM358 250h1v6h-1zM110 153h1v1h-1zM61 148h1v4h-1zM54 108h1v6h-1zM550 195h1v3h-1zM716 228h1v2h-1zM148 299h1v5h-1zM363 225h1v3h-1zM81 210h1v1h-1zM349 292h1v1h-1zM470 171h1v2h-1zM618 187h1v3h-1zM883 341h1v3h-1zM568 183h1v4h-1zM683 169h1v4h-1zM600 173h1v3h-1zM886 349h1v3h-1zM160 247h1v5h-1zM890 358h1v2h-1zM90 187h1v4h-1zM887 352h1v2h-1zM737 264h1v1h-1zM151 282h1v6h-1zM191 212h1v4h-1zM310 311h1v3h-1zM894 368h1v3h-1zM423 189h1v1h-1zM676 145h1v3h-1zM248 193h1v1h-1zM595 193h1v3h-1zM541 222h1v2h-1zM693 206h1v2h-1zM270 252h1v6h-1zM763 271h1v2h-1zM357 256h1v5h-1zM766 279h1v3h-1zM729 249h1v2h-1zM799 349h1v2h-1zM557 178h1v2h-1zM488 165h1v1h-1zM480 161h1v1h-1zM465 180h1v2h-1zM689 191h1v4h-1zM259 196h1v3h-1zM276 287h1v5h-1zM208 232h1v1h-1zM829 349h1v3h-1zM373 219h1v1h-1zM553 186h1v3h-1zM613 173h1v2h-1zM714 224h1v2h-1zM578 215h1v3h-1zM904 356h1v4h-1zM617 183h1v4h-1zM802 345h1v2h-1zM243 202h1v2h-1zM313 302h1v3h-1zM325 277h1v1h-1zM76 210h1v2h-1zM183 193h1v2h-1zM769 289h1v3h-1zM266 226h1v6h-1zM635 210h1v1h-1zM438 190h1v2h-1zM739 266h1v2h-1zM187 199h1v2h-1zM361 234h1v5h-1zM189 205h1v4h-1zM96 164h1v3h-1zM240 210h1v6h-1zM321 283h1v2h-1zM158 256h1v4h-1zM387 229h1v2h-1zM190 209h1v3h-1zM380 226h1v1h-1zM655 165h1v2h-1zM175 201h1v2h-1zM460 190h1v2h-1zM351 283h1v4h-1zM585 222h1v2h-1zM535 220h1v3h-1zM84 204h1v2h-1zM171 209h1v2h-1zM456 197h1v2h-1zM728 247h1v2h-1zM355 266h1v6h-1zM312 305h1v3h-1zM324 278h1v2h-1zM292 331h1v2h-1zM687 186h1v2h-1zM573 200h1v3h-1zM688 188h1v3h-1zM95 167h1v2h-1zM268 238h1v8h-1zM375 221h1v2h-1zM320 285h1v2h-1zM386 231h1v1h-1zM422 190h1v1h-1zM509 157h1v2h-1zM654 167h1v2h-1zM834 362h1v2h-1zM247 194h1v2h-1zM835 364h1v2h-1zM204 232h1v2h-1zM196 227h1v2h-1zM103 148h1v2h-1zM838 369h1v2h-1zM394 211h1v2h-1zM83 206h1v2h-1zM681 161h1v4h-1zM418 196h1v2h-1zM524 177h1v5h-1zM876 336h1v2h-1zM662 148h1v2h-1zM170 211h1v2h-1zM284 318h1v2h-1zM335 282h1v2h-1zM436 186h1v2h-1zM872 344h1v1h-1zM781 342h1v3h-1zM741 269h1v1h-1zM58 132h1v6h-1zM381 227h1v1h-1zM645 193h1v3h-1zM785 353h1v1h-1zM382 228h1v1h-1zM319 287h1v2h-1zM229 251h1v2h-1zM261 203h1v4h-1zM534 218h1v2h-1zM653 169h1v2h-1zM603 168h1v2h-1zM804 343h1v1h-1zM565 177h1v2h-1zM719 234h1v2h-1zM64 159h1v4h-1zM661 150h1v3h-1zM431 182h1v1h-1zM432 183h1v1h-1zM267 232h1v6h-1zM527 191h1v4h-1zM625 205h1v2h-1zM353 276h1v4h-1zM377 224h1v1h-1zM205 234h1v1h-1zM679 153h1v4h-1zM60 144h1v4h-1zM840 372h1v2h-1zM195 224h1v3h-1zM280 305h1v4h-1zM101 152h1v2h-1zM922 302h1v1h-1zM660 153h1v2h-1zM636 209h1v1h-1zM822 336h1v1h-1zM780 339h1v3h-1zM598 182h1v4h-1zM256 190h1v1h-1zM384 231h1v1h-1zM692 203h1v3h-1zM220 243h1v3h-1zM539 226h1v2h-1zM564 175h1v2h-1zM718 232h1v2h-1zM525 182h1v4h-1zM882 339h1v2h-1zM570 190h1v3h-1zM145 312h1v1h-1zM889 356h1v2h-1zM627 208h1v1h-1zM647 186h1v3h-1zM459 192h1v1h-1zM69 185h1v5h-1zM678 150h1v3h-1zM710 219h1v1h-1zM522 168h1v4h-1zM262 207h1v4h-1zM472 167h1v2h-1zM167 217h1v2h-1zM824 338h1v1h-1zM528 195h1v4h-1zM531 207h1v4h-1zM514 154h1v1h-1zM385 232h1v1h-1zM831 355h1v2h-1zM475 162h1v1h-1zM421 191h1v2h-1zM219 241h1v2h-1zM612 171h1v2h-1zM775 315h1v5h-1zM82 208h1v2h-1zM350 287h1v4h-1zM471 169h1v2h-1zM316 294h1v2h-1zM331 273h1v2h-1zM569 187h1v3h-1zM467 176h1v2h-1zM132 306h1v2h-1zM277 292h1v4h-1zM712 221h1v2h-1zM549 198h1v3h-1zM803 344h1v1h-1zM264 215h1v6h-1zM147 304h1v5h-1zM362 228h1v6h-1zM730 251h1v2h-1zM599 176h1v6h-1zM466 178h1v2h-1zM98 159h1v2h-1zM89 191h1v4h-1zM826 341h1v3h-1zM744 271h1v1h-1zM575 206h1v3h-1zM516 156h1v1h-1zM586 220h1v2h-1zM844 372h1v1h-1zM70 190h1v4h-1zM614 175h1v3h-1zM836 366h1v2h-1zM594 196h1v3h-1zM540 224h1v2h-1zM330 272h1v1h-1zM333 277h1v2h-1zM682 165h1v4h-1zM283 316h1v2h-1zM286 322h1v2h-1zM901 366h1v2h-1zM142 314h1v1h-1zM134 310h1v1h-1zM851 365h1v1h-1zM97 161h1v3h-1zM740 268h1v1h-1zM532 211h1v4h-1zM552 189h1v3h-1zM396 207h1v2h-1zM885 347h1v2h-1zM854 360h1v2h-1zM620 193h1v4h-1zM685 178h1v4h-1zM623 202h1v2h-1zM892 363h1v3h-1zM597 186h1v3h-1zM850 366h1v2h-1zM674 141h1v2h-1zM574 203h1v3h-1zM230 250h1v1h-1zM309 314h1v4h-1zM551 192h1v3h-1zM706 215h1v1h-1zM584 224h1v2h-1zM72 198h1v4h-1zM765 276h1v3h-1zM185 196h1v1h-1zM437 188h1v2h-1zM166 219h1v4h-1zM186 197h1v2h-1zM869 347h1v2h-1zM258 194h1v2h-1zM596 189h1v4h-1zM669 142h1v1h-1zM238 221h1v3h-1zM246 196h1v2h-1zM580 221h1v3h-1zM315 296h1v3h-1zM615 178h1v2h-1zM720 236h1v2h-1zM242 204h1v2h-1zM884 344h1v3h-1zM891 360h1v3h-1zM463 184h1v2h-1zM192 216h1v3h-1zM520 161h1v4h-1zM644 196h1v2h-1zM708 217h1v1h-1zM106 147h1v2h-1zM537 226h1v2h-1zM856 358h1v1h-1zM241 206h1v4h-1zM918 305h1v2h-1zM389 226h1v2h-1zM67 175h1v5h-1zM686 182h1v4h-1zM257 191h1v3h-1zM164 228h1v5h-1zM366 219h1v2h-1zM221 246h1v2h-1zM305 325h1v2h-1zM508 159h1v1h-1zM73 202h1v4h-1zM722 240h1v1h-1zM146 309h1v3h-1zM875 338h1v2h-1zM817 333h1v1h-1zM518 158h1v1h-1zM231 249h1v1h-1zM105 146h1v1h-1zM913 318h1v4h-1zM365 221h1v2h-1zM700 211h1v1h-1zM602 170h1v1h-1zM507 160h1v2h-1zM874 340h1v2h-1zM289 325h1v1h-1zM732 255h1v2h-1zM646 189h1v4h-1zM275 281h1v6h-1zM543 218h1v2h-1zM162 238h1v4h-1zM650 177h1v3h-1zM332 275h1v2h-1zM506 162h1v2h-1zM281 309h1v4h-1zM100 154h1v2h-1zM873 342h1v2h-1zM440 194h1v2h-1zM555 182h1v2h-1zM285 320h1v2h-1zM178 194h1v2h-1zM133 308h1v2h-1zM542 220h1v2h-1zM608 165h1v1h-1zM713 223h1v1h-1zM694 208h1v2h-1zM800 348h1v1h-1zM823 337h1v1h-1zM734 259h1v1h-1zM546 208h1v3h-1zM177 196h1v2h-1zM915 311h1v3h-1zM462 186h1v2h-1zM830 352h1v3h-1zM673 139h1v1h-1zM906 348h1v4h-1zM86 200h1v2h-1zM579 218h1v3h-1zM225 251h1v1h-1zM237 224h1v4h-1zM860 353h1v1h-1zM458 193h1v2h-1zM523 172h1v5h-1zM306 323h1v2h-1zM334 279h1v3h-1zM326 275h1v2h-1zM855 359h1v1h-1zM640 205h1v2h-1zM314 299h1v3h-1zM910 331h1v5h-1zM302 331h1v1h-1zM439 192h1v2h-1zM322 282h1v1h-1zM188 201h1v4h-1zM770 292h1v3h-1zM131 305h1v1h-1zM783 347h1v3h-1zM656 163h1v2h-1zM135 311h1v2h-1zM848 369h1v1h-1zM318 289h1v2h-1zM108 150h1v1h-1zM610 168h1v2h-1zM461 188h1v2h-1zM352 280h1v3h-1zM109 151h1v2h-1zM85 202h1v2h-1zM536 223h1v3h-1zM696 212h1v1h-1zM63 156h1v3h-1zM457 195h1v2h-1zM426 185h1v1h-1zM571 193h1v4h-1zM825 339h1v2h-1zM900 368h1v2h-1zM870 346h1v1h-1zM893 366h1v2h-1zM675 143h1v2h-1zM104 147h1v1h-1zM317 291h1v3h-1zM395 209h1v2h-1zM707 216h1v1h-1zM663 146h1v2h-1zM601 171h1v2h-1zM197 229h1v1h-1zM725 242h1v1h-1zM371 216h1v1h-1zM372 217h1v2h-1zM899 370h1v2h-1zM222 248h1v2h-1zM62 152h1v4h-1zM616 180h1v3h-1zM566 179h1v2h-1zM75 208h1v2h-1zM558 176h1v2h-1zM919 304h1v1h-1zM99 156h1v3h-1zM619 190h1v3h-1zM447 201h1v1h-1zM517 157h1v1h-1zM588 216h1v2h-1zM174 203h1v2h-1zM837 368h1v1h-1zM841 374h1v1h-1zM727 245h1v2h-1zM327 274h1v1h-1zM442 197h1v1h-1zM649 180h1v3h-1zM443 198h1v1h-1zM291 329h1v2h-1zM323 280h1v2h-1zM233 244h1v3h-1zM657 161h1v2h-1zM576 209h1v3h-1zM833 360h1v2h-1zM859 354h1v1h-1zM173 205h1v2h-1zM639 207h1v1h-1zM169 213h1v2h-1zM591 206h1v3h-1zM624 204h1v1h-1zM628 209h1v2h-1zM839 371h1v1h-1zM228 253h1v1h-1zM733 257h1v2h-1zM736 262h1v2h-1zM364 223h1v2h-1zM762 270h1v1h-1zM801 347h1v1h-1zM626 207h1v1h-1zM487 163h1v2h-1zM782 345h1v2h-1zM215 234h1v2h-1zM709 218h1v1h-1zM808 340h1v1h-1zM107 149h1v1h-1zM609 166h1v2h-1zM111 154h1v2h-1zM538 228h1v1h-1zM695 210h1v2h-1zM881 337h1v2h-1zM735 260h1v2h-1zM554 184h1v2h-1zM388 228h1v1h-1zM815 336h1v1h-1zM217 238h1v1h-1zM711 220h1v1h-1zM664 145h1v1h-1zM474 163h1v2h-1zM420 193h1v1h-1zM74 206h1v2h-1zM184 195h1v1h-1zM435 185h1v1h-1zM446 200h1v1h-1zM515 155h1v1h-1zM469 173h1v1h-1zM441 196h1v1h-1zM805 342h1v1h-1zM738 265h1v1h-1zM399 202h1v1h-1zM923 301h1v1h-1zM347 290h1v1h-1zM853 362h1v1h-1zM425 186h1v1h-1zM374 220h1v1h-1zM845 371h1v1h-1zM697 213h1v1h-1zM505 164h1v1h-1z" fill="#0000ff"/>
<rect x="229" y="43" width="938" height="2" fill="#ff0000"/>
<rect x="5" y="145" width="1162" height="2" fill="#ff0000"/>
<rect x="5" y="301" width="1162" height="2" fill="#00ff00"/>
<rect x="5" y="415" width="1162" height="2" fill="#0000ff"/>
<rect x="21" y="100" width="1" height="28" fill="#32cd32"/>
<rect x="20" y="100" width="3" height="18" fill="#32cd32"/>
<rect x="25" y="117" width="1" height="9" fill="#32cd32"/>
<rect x="24" y="117" width="3" height="6" fill="#32cd32"/>
<rect x="29" y="100" width="1" height="22" fill="#ff0000"/>
<rect x="28" y="100" width="3" height="20" fill="#ff0000"/>
<rect x="29" y="101" width="1" height="18" fill="#ff4500"/>
<rect x="45" y="100" width="1" height="12" fill="#32cd32"/>
<rect x="44" y="100" width="3" height="5" fill="#32cd32"/>
<rect x="49" y="100" width="1" height="32" fill="#32cd32"/>
<rect x="48" y="100" width="3" height="29" fill="#32cd32"/>
<rect x="53" y="132" width="1" height="34" fill="#32cd32"/>
<rect x="52" y="134" width="3" height="3" fill="#32cd32"/>
<rect x="57" y="135" width="1" height="69" fill="#32cd32"/>
<rect x="56" y="136" width="3" height="41" fill="#32cd32"/>
<rect x="61" y="173" width="1" height="65" fill="#32cd32"/>
<rect x="60" y="175" width="3" height="17" fill="#32cd32"/>
<rect x="65" y="160" width="1" height="61" fill="#32cd32"/>
<rect x="64" y="191" width="3" height="25" fill="#32cd32"/>
<rect x="69" y="169" width="1" height="65" fill="#32cd32"/>
<rect x="68" y="215" width="3" height="7" fill="#32cd32"/>
<rect x="73" y="221" width="1" height="13" fill="#32cd32"/>
<rect x="72" y="221" width="3" height="8" fill="#32cd32"/>
<rect x="77" y="190" width="1" height="21" fill="#ff0000"/>
<rect x="76" y="205" width="3" height="2" fill="#ff0000"/>
<rect x="81" y="179" width="1" height="37" fill="#ff0000"/>
<rect x="80" y="187" width="3" height="20" fill="#ff0000"/>
<rect x="81" y="188" width="1" height="18" fill="#ff4500"/>
<rect x="85" y="165" width="1" height="39" fill="#ff0000"/>
<rect x="84" y="173" width="3" height="15" fill="#ff0000"/>
<rect x="85" y="174" width="1" height="13" fill="#ff4500"/>
<rect x="89" y="161" width="1" height="29" fill="#ff0000"/>
<rect x="88" y="172" width="3" height="2" fill="#ff0000"/>
<rect x="93" y="137" width="1" height="50" fill="#ff0000"/>
<rect x="92" y="139" width="3" height="34" fill="#ff0000"/>
<rect x="93" y="140" width="1" height="32" fill="#ff4500"/>
<rect x="97" y="136" width="1" height="8" fill="#ff0000"/>
<rect x="96" y="139" width="3" height="1" fill="#ff0000"/>
<rect x="101" y="133" width="1" height="24" fill="#32cd32"/>
<rect x="100" y="145" width="3" height="1" fill="#32cd32"/>
<rect x="105" y="123" width="1" height="35" fill="#ff0000"/>
<rect x="104" y="136" width="3" height="10" fill="#ff0000"/>
<rect x="105" y="137" width="1" height="8" fill="#ff4500"/>
<rect x="109" y="122" width="1" height="48" fill="#32cd32"/>
<rect x="108" y="136" width="3" height="26" fill="#32cd32"/>
<rect x="113" y="160" width="1" height="107" fill="#32cd32"/>
<rect x="112" y="160" width="3" height="102" fill="#32cd32"/>
<rect x="117" y="249" width="1" height="38" fill="#32cd32"/>
<rect x="116" y="261" width="3" height="25" fill="#32cd32"/>
<rect x="121" y="285" width="1" height="17" fill="#32cd32"/>
<rect x="120" y="285" width="3" height="15" fill="#32cd32"/>
<rect x="125" y="289" width="1" height="54" fill="#32cd32"/>
<rect x="124" y="305" width="3" height="31" fill="#32cd32"/>
<rect x="129" y="296" width="1" height="58" fill="#ff0000"/>
<rect x="128" y="330" width="3" height="6" fill="#ff0000"/>
<rect x="129" y="331" width="1" height="4" fill="#ff4500"/>
<rect x="133" y="288" width="1" height="45" fill="#ff0000"/>
<rect x="132" y="305" width="3" height="26" fill="#ff0000"/>
<rect x="133" y="306" width="1" height="24" fill="#ff4500"/>
<rect x="137" y="267" width="1" height="40" fill="#ff0000"/>
<rect x="136" y="301" width="3" height="6" fill="#ff0000"/>
<rect x="137" y="302" width="1" height="4" fill="#ff4500"/>
<rect x="141" y="296" width="1" height="26" fill="#32cd32"/>
<rect x="140" y="302" width="3" height="6" fill="#32cd32"/>
<rect x="145" y="296" width="1" height="15" fill="#32cd32"/>
<rect x="144" y="307" width="3" height="4" fill="#32cd32"/>
<rect x="149" y="226" width="1" height="60" fill="#ff0000"/>
<rect x="148" y="231" width="3" height="53" fill="#ff0000"/>
<rect x="149" y="232" width="1" height="51" fill="#ff4500"/>
<rect x="153" y="213" width="1" height="24" fill="#32cd32"/>
<rect x="152" y="231" width="3" height="4" fill="#32cd32"/>
<rect x="157" y="224" width="1" height="29" fill="#ff0000"/>
<rect x="156" y="230" width="3" height="5" fill="#ff0000"/>
<rect x="157" y="231" width="1" height="3" fill="#ff4500"/>
<rect x="161" y="224" width="1" height="20" fill="#32cd32"/>
<rect x="160" y="230" width="3" height="10" fill="#32cd32"/>
<rect x="165" y="182" width="1" height="66" fill="#ff0000"/>
<rect x="164" y="187" width="3" height="53" fill="#ff0000"/>
<rect x="165" y="188" width="1" height="51" fill="#ff4500"/>
<rect x="169" y="184" width="1" height="10" fill="#32cd32"/>
<rect x="168" y="187" width="3" height="5" fill="#32cd32"/>
<rect x="173" y="171" width="1" height="35" fill="#ff0000"/>
<rect x="172" y="177" width="3" height="20" fill="#ff0000"/>
<rect x="173" y="178" width="1" height="18" fill="#ff4500"/>
<rect x="177" y="168" width="1" height="20" fill="#32cd32"/>
<rect x="176" y="177" width="3" height="8" fill="#32cd32"/>
<rect x="181" y="175" width="1" height="40" fill="#32cd32"/>
<rect x="180" y="184" width="3" height="27" fill="#32cd32"/>
<rect x="185" y="203" width="1" height="41" fill="#32cd32"/>
<rect x="184" y="210" width="3" height="5" fill="#32cd32"/>
<rect x="189" y="199" width="1" height="53" fill="#32cd32"/>
<rect x="188" y="215" width="3" height="30" fill="#32cd32"/>
<rect x="193" y="240" width="1" height="9" fill="#32cd32"/>
<rect x="192" y="244" width="3" height="2" fill="#32cd32"/>
<rect x="197" y="238" width="1" height="27" fill="#ff0000"/>
<rect x="196" y="243" width="3" height="4" fill="#ff0000"/>
<rect x="197" y="244" width="1" height="2" fill="#ff4500"/>
<rect x="201" y="211" width="1" height="41" fill="#ff0000"/>
<rect x="200" y="211" width="3" height="33" fill="#ff0000"/>
<rect x="201" y="212" width="1" height="31" fill="#ff4500"/>
<rect x="205" y="199" width="1" height="29" fill="#32cd32"/>
<rect x="204" y="211" width="3" height="16" fill="#32cd32"/>
<rect x="209" y="211" width="1" height="33" fill="#32cd32"/>
<rect x="208" y="226" width="3" height="6" fill="#32cd32"/>
<rect x="213" y="223" width="1" height="51" fill="#32cd32"/>
<rect x="212" y="231" width="3" height="31" fill="#32cd32"/>
<rect x="217" y="246" width="1" height="23" fill="#ff0000"/>
<rect x="216" y="258" width="3" height="4" fill="#ff0000"/>
<rect x="217" y="259" width="1" height="2" fill="#ff4500"/>
<rect x="221" y="249" width="1" height="26" fill="#32cd32"/>
<rect x="220" y="261" width="3" height="6" fill="#32cd32"/>
<rect x="225" y="239" width="1" height="34" fill="#ff0000"/>
<rect x="224" y="241" width="3" height="26" fill="#ff0000"/>
<rect x="225" y="242" width="1" height="24" fill="#ff4500"/>
<rect x="229" y="223" width="1" height="29" fill="#ff0000"/>
<rect x="228" y="238" width="3" height="5" fill="#ff0000"/>
<rect x="229" y="239" width="1" height="3" fill="#ff4500"/>
<rect x="233" y="202" width="1" height="45" fill="#ff0000"/>
<rect x="232" y="206" width="3" height="32" fill="#ff0000"/>
<rect x="233" y="207" width="1" height="30" fill="#ff4500"/>
<rect x="237" y="173" width="1" height="34" fill="#ff0000"/>
<rect x="236" y="181" width="3" height="26" fill="#ff0000"/>
<rect x="237" y="182" width="1" height="24" fill="#ff4500"/>
<rect x="241" y="171" width="1" height="11" fill="#ff0000"/>
<rect x="240" y="174" width="3" height="7" fill="#ff0000"/>
<rect x="241" y="175" width="1" height="5" fill="#ff4500"/>
<rect x="245" y="181" width="1" height="17" fill="#32cd32"/>
<rect x="244" y="181" width="3" height="13" fill="#32cd32"/>
<rect x="249" y="189" width="1" height="24" fill="#32cd32"/>
<rect x="248" y="193" width="3" height="8" fill="#32cd32"/>
<rect x="253" y="195" width="1" height="16" fill="#32cd32"/>
<rect x="252" y="199" width="3" height="5" fill="#32cd32"/>
<rect x="257" y="151" width="1" height="65" fill="#ff0000"/>
<rect x="256" y="177" width="3" height="26" fill="#ff0000"/>
<rect x="257" y="178" width="1" height="24" fill="#ff4500"/>
<rect x="261" y="177" width="1" height="86" fill="#32cd32"/>
<rect x="260" y="177" width="3" height="86" fill="#32cd32"/>
<rect x="265" y="253" width="1" height="15" fill="#ff0000"/>
<rect x="264" y="260" width="3" height="3" fill="#ff0000"/>
<rect x="265" y="261" width="1" height="1" fill="#ff4500"/>
<rect x="269" y="257" width="1" height="79" fill="#32cd32"/>
<rect x="268" y="260" width="3" height="75" fill="#32cd32"/>
<rect x="273" y="282" width="1" height="66" fill="#ff0000"/>
<rect x="272" y="290" width="3" height="45" fill="#ff0000"/>
<rect x="273" y="291" width="1" height="43" fill="#ff4500"/>
<rect x="277" y="279" width="1" height="69" fill="#32cd32"/>
<rect x="276" y="290" width="3" height="53" fill="#32cd32"/>
<rect x="281" y="287" width="1" height="69" fill="#ff0000"/>
<rect x="280" y="312" width="3" height="32" fill="#ff0000"/>
<rect x="281" y="313" width="1" height="30" fill="#ff4500"/>
<rect x="285" y="306" width="1" height="36" fill="#32cd32"/>
<rect x="284" y="312" width="3" height="30" fill="#32cd32"/>
<rect x="289" y="333" width="1" height="10" fill="#ff0000"/>
<rect x="288" y="333" width="3" height="9" fill="#ff0000"/>
<rect x="289" y="334" width="1" height="7" fill="#ff4500"/>
<rect x="293" y="310" width="1" height="53" fill="#32cd32"/>
<rect x="292" y="332" width="3" height="20" fill="#32cd32"/>
<rect x="297" y="300" width="1" height="79" fill="#ff0000"/>
<rect x="296" y="318" width="3" height="34" fill="#ff0000"/>
<rect x="297" y="319" width="1" height="32" fill="#ff4500"/>
<rect x="301" y="298" width="1" height="48" fill="#32cd32"/>
<rect x="300" y="317" width="3" height="7" fill="#32cd32"/>
<rect x="305" y="294" width="1" height="39" fill="#ff0000"/>
<rect x="304" y="305" width="3" height="19" fill="#ff0000"/>
<rect x="305" y="306" width="1" height="17" fill="#ff4500"/>
<rect x="309" y="270" width="1" height="47" fill="#ff0000"/>
<rect x="308" y="277" width="3" height="28" fill="#ff0000"/>
<rect x="309" y="278" width="1" height="26" fill="#ff4500"/>
<rect x="313" y="276" width="1" height="17" fill="#32cd32"/>
<rect x="312" y="277" width="3" height="14" fill="#32cd32"/>
<rect x="317" y="262" width="1" height="35" fill="#ff0000"/>
<rect x="316" y="271" width="3" height="15" fill="#ff0000"/>
<rect x="317" y="272" width="1" height="13" fill="#ff4500"/>
<rect x="321" y="264" width="1" height="23" fill="#32cd32"/>
<rect x="320" y="271" width="3" height="13" fill="#32cd32"/>
<rect x="325" y="264" width="1" height="32" fill="#ff0000"/>
<rect x="324" y="265" width="3" height="19" fill="#ff0000"/>
<rect x="325" y="266" width="1" height="17" fill="#ff4500"/>
<rect x="329" y="245" width="1" height="30" fill="#ff0000"/>
<rect x="328" y="252" width="3" height="14" fill="#ff0000"/>
<rect x="329" y="253" width="1" height="12" fill="#ff4500"/>
<rect x="333" y="221" width="1" height="96" fill="#32cd32"/>
<rect x="332" y="252" width="3" height="64" fill="#32cd32"/>
<rect x="337" y="299" width="1" height="25" fill="#32cd32"/>
<rect x="336" y="315" width="3" height="4" fill="#32cd32"/>
<rect x="341" y="265" width="1" height="69" fill="#ff0000"/>
<rect x="340" y="290" width="3" height="43" fill="#ff0000"/>
<rect x="341" y="291" width="1" height="41" fill="#ff4500"/>
<rect x="345" y="250" width="1" height="46" fill="#ff0000"/>
<rect x="344" y="266" width="3" height="25" fill="#ff0000"/>
<rect x="345" y="267" width="1" height="23" fill="#ff4500"/>
<rect x="349" y="256" width="1" height="20" fill="#32cd32"/>
<rect x="348" y="266" width="3" height="7" fill="#32cd32"/>
<rect x="353" y="236" width="1" height="44" fill="#ff0000"/>
<rect x="352" y="239" width="3" height="34" fill="#ff0000"/>
<rect x="353" y="240" width="1" height="32" fill="#ff4500"/>
<rect x="357" y="203" width="1" height="39" fill="#ff0000"/>
<rect x="356" y="206" width="3" height="34" fill="#ff0000"/>
<rect x="357" y="207" width="1" height="32" fill="#ff4500"/>
<rect x="361" y="192" width="1" height="14" fill="#ff0000"/>
<rect x="360" y="200" width="3" height="6" fill="#ff0000"/>
<rect x="361" y="201" width="1" height="4" fill="#ff4500"/>
<rect x="365" y="191" width="1" height="23" fill="#ff0000"/>
<rect x="364" y="201" width="3" height="13" fill="#ff0000"/>
<rect x="365" y="202" width="1" height="11" fill="#ff4500"/>
<rect x="369" y="184" width="1" height="47" fill="#32cd32"/>
<rect x="368" y="201" width="3" height="25" fill="#32cd32"/>
<rect x="373" y="216" width="1" height="59" fill="#32cd32"/>
<rect x="372" y="225" width="3" height="40" fill="#32cd32"/>
<rect x="377" y="225" width="1" height="54" fill="#ff0000"/>
<rect x="376" y="227" width="3" height="38" fill="#ff0000"/>
<rect x="377" y="228" width="1" height="36" fill="#ff4500"/>
<rect x="381" y="192" width="1" height="47" fill="#32cd32"/>
<rect x="380" y="227" width="3" height="3" fill="#32cd32"/>
<rect x="385" y="216" width="1" height="18" fill="#ff0000"/>
<rect x="384" y="220" width="3" height="10" fill="#ff0000"/>
<rect x="385" y="221" width="1" height="8" fill="#ff4500"/>
<rect x="389" y="194" width="1" height="26" fill="#ff0000"/>
<rect x="388" y="198" width="3" height="22" fill="#ff0000"/>
<rect x="389" y="199" width="1" height="20" fill="#ff4500"/>
<rect x="393" y="182" width="1" height="25" fill="#32cd32"/>
<rect x="392" y="197" width="3" height="3" fill="#32cd32"/>
<rect x="397" y="173" width="1" height="29" fill="#ff0000"/>
<rect x="396" y="181" width="3" height="19" fill="#ff0000"/>
<rect x="397" y="182" width="1" height="17" fill="#ff4500"/>
<rect x="401" y="171" width="1" height="48" fill="#32cd32"/>
<rect x="400" y="181" width="3" height="32" fill="#32cd32"/>
<rect x="405" y="196" width="1" height="43" fill="#ff0000"/>
<rect x="404" y="206" width="3" height="6" fill="#ff0000"/>
<rect x="405" y="207" width="1" height="4" fill="#ff4500"/>
<rect x="409" y="197" width="1" height="10" fill="#ff0000"/>
<rect x="408" y="198" width="3" height="9" fill="#ff0000"/>
<rect x="409" y="199" width="1" height="7" fill="#ff4500"/>
<rect x="413" y="176" width="1" height="55" fill="#ff0000"/>
<rect x="412" y="191" width="3" height="33" fill="#ff0000"/>
<rect x="413" y="192" width="1" height="31" fill="#ff4500"/>
<rect x="417" y="155" width="1" height="41" fill="#ff0000"/>
<rect x="416" y="186" width="3" height="5" fill="#ff0000"/>
<rect x="417" y="187" width="1" height="3" fill="#ff4500"/>
<rect x="421" y="159" width="1" height="30" fill="#ff0000"/>
<rect x="420" y="168" width="3" height="19" fill="#ff0000"/>
<rect x="421" y="169" width="1" height="17" fill="#ff4500"/>
<rect x="425" y="145" width="1" height="60" fill="#32cd32"/>
<rect x="424" y="168" width="3" height="18" fill="#32cd32"/>
<rect x="429" y="179" width="1" height="34" fill="#ff0000"/>
<rect x="428" y="183" width="3" height="2" fill="#ff0000"/>
<rect x="433" y="182" width="1" height="22" fill="#32cd32"/>
<rect x="432" y="183" width="3" height="10" fill="#32cd32"/>
<rect x="437" y="194" width="1" height="19" fill="#32cd32"/>
<rect x="436" y="195" width="3" height="15" fill="#32cd32"/>
<rect x="441" y="194" width="1" height="33" fill="#32cd32"/>
<rect x="440" y="209" width="3" height="16" fill="#32cd32"/>
<rect x="445" y="198" width="1" height="48" fill="#ff0000"/>
<rect x="444" y="198" width="3" height="27" fill="#ff0000"/>
<rect x="445" y="199" width="1" height="25" fill="#ff4500"/>
<rect x="449" y="170" width="1" height="32" fill="#ff0000"/>
<rect x="448" y="185" width="3" height="14" fill="#ff0000"/>
<rect x="449" y="186" width="1" height="12" fill="#ff4500"/>
<rect x="453" y="169" width="1" height="37" fill="#32cd32"/>
<rect x="452" y="184" width="3" height="7" fill="#32cd32"/>
<rect x="457" y="190" width="1" height="17" fill="#32cd32"/>
<rect x="456" y="190" width="3" height="13" fill="#32cd32"/>
<rect x="461" y="147" width="1" height="55" fill="#ff0000"/>
<rect x="460" y="148" width="3" height="54" fill="#ff0000"/>
<rect x="461" y="149" width="1" height="52" fill="#ff4500"/>
<rect x="465" y="121" width="1" height="60" fill="#32cd32"/>
<rect x="464" y="149" width="3" height="30" fill="#32cd32"/>
<rect x="469" y="114" width="1" height="77" fill="#ff0000"/>
<rect x="468" y="150" width="3" height="29" fill="#ff0000"/>
<rect x="469" y="151" width="1" height="27" fill="#ff4500"/>
<rect x="473" y="113" width="1" height="52" fill="#32cd32"/>
<rect x="472" y="150" width="3" height="2" fill="#32cd32"/>
<rect x="477" y="127" width="1" height="60" fill="#32cd32"/>
<rect x="476" y="151" width="3" height="13" fill="#32cd32"/>
<rect x="481" y="161" width="1" height="11" fill="#32cd32"/>
<rect x="480" y="163" width="3" height="7" fill="#32cd32"/>
<rect x="485" y="159" width="1" height="28" fill="#ff0000"/>
<rect x="484" y="170" width="3" height="3" fill="#ff0000"/>
<rect x="485" y="171" width="1" height="1" fill="#ff4500"/>
<rect x="489" y="157" width="1" height="45" fill="#32cd32"/>
<rect x="488" y="170" width="3" height="6" fill="#32cd32"/>
<rect x="493" y="165" width="1" height="29" fill="#ff0000"/>
<rect x="492" y="169" width="3" height="8" fill="#ff0000"/>
<rect x="493" y="170" width="1" height="6" fill="#ff4500"/>
<rect x="497" y="153" width="1" height="43" fill="#ff0000"/>
<rect x="496" y="166" width="3" height="4" fill="#ff0000"/>
<rect x="497" y="167" width="1" height="2" fill="#ff4500"/>
<rect x="501" y="139" width="1" height="31" fill="#ff0000"/>
<rect x="500" y="156" width="3" height="11" fill="#ff0000"/>
<rect x="501" y="157" width="1" height="9" fill="#ff4500"/>
<rect x="505" y="150" width="1" height="14" fill="#ff0000"/>
<rect x="504" y="151" width="3" height="7" fill="#ff0000"/>
<rect x="505" y="152" width="1" height="5" fill="#ff4500"/>
<rect x="509" y="145" width="1" height="29" fill="#32cd32"/>
<rect x="508" y="147" width="3" height="7" fill="#32cd32"/>
<rect x="513" y="136" width="1" height="24" fill="#ff0000"/>
<rect x="512" y="146" width="3" height="8" fill="#ff0000"/>
<rect x="513" y="147" width="1" height="6" fill="#ff4500"/>
<rect x="517" y="138" width="1" height="26" fill="#32cd32"/>
<rect x="516" y="145" width="3" height="19" fill="#32cd32"/>
<rect x="521" y="162" width="1" height="67" fill="#32cd32"/>
<rect x="520" y="163" width="3" height="65" fill="#32cd32"/>
<rect x="525" y="211" width="1" height="31" fill="#32cd32"/>
<rect x="524" y="226" width="3" height="12" fill="#32cd32"/>
<rect x="529" y="233" width="1" height="12" fill="#32cd32"/>
<rect x="528" y="237" width="3" height="4" fill="#32cd32"/>
<rect x="533" y="222" width="1" height="26" fill="#ff0000"/>
<rect x="532" y="230" width="3" height="13" fill="#ff0000"/>
<rect x="533" y="231" width="1" height="11" fill="#ff4500"/>
<rect x="537" y="211" width="1" height="29" fill="#ff0000"/>
<rect x="536" y="212" width="3" height="19" fill="#ff0000"/>
<rect x="537" y="213" width="1" height="17" fill="#ff4500"/>
<rect x="541" y="197" width="1" height="21" fill="#ff0000"/>
<rect x="540" y="200" width="3" height="13" fill="#ff0000"/>
<rect x="541" y="201" width="1" height="11" fill="#ff4500"/>
<rect x="545" y="184" width="1" height="24" fill="#ff0000"/>
<rect x="544" y="187" width="3" height="14" fill="#ff0000"/>
<rect x="545" y="188" width="1" height="12" fill="#ff4500"/>
<rect x="549" y="172" width="1" height="28" fill="#ff0000"/>
<rect x="548" y="172" width="3" height="17" fill="#ff0000"/>
<rect x="549" y="173" width="1" height="15" fill="#ff4500"/>
<rect x="553" y="165" width="1" height="9" fill="#ff0000"/>
<rect x="552" y="171" width="3" height="3" fill="#ff0000"/>
<rect x="553" y="172" width="1" height="1" fill="#ff4500"/>
<rect x="557" y="154" width="1" height="20" fill="#ff0000"/>
<rect x="556" y="161" width="3" height="12" fill="#ff0000"/>
<rect x="557" y="162" width="1" height="10" fill="#ff4500"/>
<rect x="561" y="158" width="1" height="24" fill="#32cd32"/>
<rect x="560" y="161" width="3" height="18" fill="#32cd32"/>
<rect x="565" y="172" width="1" height="29" fill="#32cd32"/>
<rect x="564" y="178" width="3" height="23" fill="#32cd32"/>
<rect x="569" y="175" width="1" height="59" fill="#32cd32"/>
<rect x="568" y="199" width="3" height="31" fill="#32cd32"/>
<rect x="573" y="209" width="1" height="30" fill="#32cd32"/>
<rect x="572" y="227" width="3" height="12" fill="#32cd32"/>
<rect x="577" y="231" width="1" height="9" fill="#ff0000"/>
<rect x="576" y="235" width="3" height="3" fill="#ff0000"/>
<rect x="577" y="236" width="1" height="1" fill="#ff4500"/>
<rect x="581" y="213" width="1" height="27" fill="#ff0000"/>
<rect x="580" y="231" width="3" height="7" fill="#ff0000"/>
<rect x="581" y="232" width="1" height="5" fill="#ff4500"/>
<rect x="585" y="183" width="1" height="51" fill="#ff0000"/>
<rect x="584" y="191" width="3" height="41" fill="#ff0000"/>
<rect x="585" y="192" width="1" height="39" fill="#ff4500"/>
<rect x="589" y="176" width="1" height="17" fill="#ff0000"/>
<rect x="588" y="187" width="3" height="5" fill="#ff0000"/>
<rect x="589" y="188" width="1" height="3" fill="#ff4500"/>
<rect x="593" y="164" width="1" height="34" fill="#ff0000"/>
<rect x="592" y="171" width="3" height="18" fill="#ff0000"/>
<rect x="593" y="172" width="1" height="16" fill="#ff4500"/>
<rect x="597" y="151" width="1" height="23" fill="#ff0000"/>
<rect x="596" y="156" width="3" height="15" fill="#ff0000"/>
<rect x="597" y="157" width="1" height="13" fill="#ff4500"/>
<rect x="601" y="149" width="1" height="11" fill="#ff0000"/>
<rect x="600" y="150" width="3" height="7" fill="#ff0000"/>
<rect x="601" y="151" width="1" height="5" fill="#ff4500"/>
<rect x="605" y="149" width="1" height="34" fill="#32cd32"/>
<rect x="604" y="154" width="3" height="20" fill="#32cd32"/>
<rect x="609" y="158" width="1" height="27" fill="#32cd32"/>
<rect x="608" y="172" width="3" height="4" fill="#32cd32"/>
<rect x="613" y="173" width="1" height="38" fill="#32cd32"/>
<rect x="612" y="174" width="3" height="37" fill="#32cd32"/>
<rect x="617" y="199" width="1" height="28" fill="#32cd32"/>
<rect x="616" y="210" width="3" height="7" fill="#32cd32"/>
<rect x="621" y="198" width="1" height="29" fill="#ff0000"/>
<rect x="620" y="209" width="3" height="8" fill="#ff0000"/>
<rect x="621" y="210" width="1" height="6" fill="#ff4500"/>
<rect x="625" y="198" width="1" height="14" fill="#ff0000"/>
<rect x="624" y="208" width="3" height="3" fill="#ff0000"/>
<rect x="625" y="209" width="1" height="1" fill="#ff4500"/>
<rect x="629" y="195" width="1" height="29" fill="#32cd32"/>
<rect x="628" y="212" width="3" height="11" fill="#32cd32"/>
<rect x="633" y="191" width="1" height="38" fill="#ff0000"/>
<rect x="632" y="207" width="3" height="16" fill="#ff0000"/>
<rect x="633" y="208" width="1" height="14" fill="#ff4500"/>
<rect x="637" y="178" width="1" height="30" fill="#ff0000"/>
<rect x="636" y="188" width="3" height="20" fill="#ff0000"/>
<rect x="637" y="189" width="1" height="18" fill="#ff4500"/>
<rect x="641" y="184" width="1" height="28" fill="#32cd32"/>
<rect x="640" y="188" width="3" height="9" fill="#32cd32"/>
<rect x="645" y="160" width="1" height="37" fill="#ff0000"/>
<rect x="644" y="164" width="3" height="33" fill="#ff0000"/>
<rect x="645" y="165" width="1" height="31" fill="#ff4500"/>
<rect x="649" y="149" width="1" height="16" fill="#ff0000"/>
<rect x="648" y="151" width="3" height="14" fill="#ff0000"/>
<rect x="649" y="152" width="1" height="12" fill="#ff4500"/>
<rect x="653" y="143" width="1" height="19" fill="#32cd32"/>
<rect x="652" y="149" width="3" height="5" fill="#32cd32"/>
<rect x="657" y="142" width="1" height="21" fill="#ff0000"/>
<rect x="656" y="142" width="3" height="12" fill="#ff0000"/>
<rect x="657" y="143" width="1" height="10" fill="#ff4500"/>
<rect x="661" y="135" width="1" height="23" fill="#ff0000"/>
<rect x="660" y="139" width="3" height="5" fill="#ff0000"/>
<rect x="661" y="140" width="1" height="3" fill="#ff4500"/>
<rect x="665" y="132" width="1" height="15" fill="#32cd32"/>
<rect x="664" y="140" width="3" height="4" fill="#32cd32"/>
<rect x="669" y="116" width="1" height="33" fill="#ff0000"/>
<rect x="668" y="137" width="3" height="7" fill="#ff0000"/>
<rect x="669" y="138" width="1" height="5" fill="#ff4500"/>
<rect x="673" y="130" width="1" height="9" fill="#ff0000"/>
<rect x="672" y="133" width="3" height="5" fill="#ff0000"/>
<rect x="673" y="134" width="1" height="3" fill="#ff4500"/>
<rect x="677" y="127" width="1" height="59" fill="#32cd32"/>
<rect x="676" y="134" width="3" height="50" fill="#32cd32"/>
<rect x="681" y="183" width="1" height="49" fill="#32cd32"/>
<rect x="680" y="183" width="3" height="49" fill="#32cd32"/>
<rect x="685" y="209" width="1" height="30" fill="#ff0000"/>
<rect x="684" y="214" width="3" height="18" fill="#ff0000"/>
<rect x="685" y="215" width="1" height="16" fill="#ff4500"/>
<rect x="689" y="205" width="1" height="20" fill="#32cd32"/>
<rect x="688" y="214" width="3" height="5" fill="#32cd32"/>
<rect x="693" y="192" width="1" height="39" fill="#ff0000"/>
<rect x="692" y="198" width="3" height="21" fill="#ff0000"/>
<rect x="693" y="199" width="1" height="19" fill="#ff4500"/>
<rect x="697" y="192" width="1" height="14" fill="#32cd32"/>
<rect x="696" y="198" width="3" height="7" fill="#32cd32"/>
<rect x="701" y="197" width="1" height="23" fill="#32cd32"/>
<rect x="700" y="207" width="3" height="11" fill="#32cd32"/>
<rect x="705" y="214" width="1" height="26" fill="#32cd32"/>
<rect x="704" y="216" width="3" height="18" fill="#32cd32"/>
<rect x="709" y="231" width="1" height="23" fill="#ff0000"/>
<rect x="708" y="231" width="3" height="3" fill="#ff0000"/>
<rect x="709" y="232" width="1" height="1" fill="#ff4500"/>
<rect x="713" y="222" width="1" height="50" fill="#ff0000"/>
<rect x="712" y="228" width="3" height="4" fill="#ff0000"/>
<rect x="713" y="229" width="1" height="2" fill="#ff4500"/>
<rect x="717" y="225" width="1" height="49" fill="#32cd32"/>
<rect x="716" y="228" width="3" height="29" fill="#32cd32"/>
<rect x="721" y="243" width="1" height="17" fill="#ff0000"/>
<rect x="720" y="246" width="3" height="11" fill="#ff0000"/>
<rect x="721" y="247" width="1" height="9" fill="#ff4500"/>
<rect x="725" y="242" width="1" height="22" fill="#ff0000"/>
<rect x="724" y="249" width="3" height="6" fill="#ff0000"/>
<rect x="725" y="250" width="1" height="4" fill="#ff4500"/>
<rect x="729" y="246" width="1" height="35" fill="#32cd32"/>
<rect x="728" y="249" width="3" height="32" fill="#32cd32"/>
<rect x="733" y="262" width="1" height="20" fill="#ff0000"/>
<rect x="732" y="267" width="3" height="13" fill="#ff0000"/>
<rect x="733" y="268" width="1" height="11" fill="#ff4500"/>
<rect x="737" y="263" width="1" height="31" fill="#32cd32"/>
<rect x="736" y="267" width="3" height="23" fill="#32cd32"/>
<rect x="741" y="260" width="1" height="40" fill="#ff0000"/>
<rect x="740" y="265" width="3" height="25" fill="#ff0000"/>
<rect x="741" y="266" width="1" height="23" fill="#ff4500"/>
<rect x="745" y="255" width="1" height="11" fill="#ff0000"/>
<rect x="744" y="257" width="3" height="9" fill="#ff0000"/>
<rect x="745" y="258" width="1" height="7" fill="#ff4500"/>
<rect x="749" y="257" width="1" height="20" fill="#ff0000"/>
<rect x="748" y="262" width="3" height="3" fill="#ff0000"/>
<rect x="749" y="263" width="1" height="1" fill="#ff4500"/>
<rect x="753" y="254" width="1" height="24" fill="#32cd32"/>
<rect x="752" y="261" width="3" height="14" fill="#32cd32"/>
<rect x="757" y="270" width="1" height="14" fill="#32cd32"/>
<rect x="756" y="274" width="3" height="6" fill="#32cd32"/>
<rect x="761" y="264" width="1" height="18" fill="#ff0000"/>
<rect x="760" y="268" width="3" height="13" fill="#ff0000"/>
<rect x="761" y="269" width="1" height="11" fill="#ff4500"/>
<rect x="765" y="264" width="1" height="56" fill="#32cd32"/>
<rect x="764" y="268" width="3" height="40" fill="#32cd32"/>
<rect x="769" y="306" width="1" height="21" fill="#32cd32"/>
<rect x="768" y="306" width="3" height="20" fill="#32cd32"/>
<rect x="773" y="318" width="1" height="44" fill="#32cd32"/>
<rect x="772" y="318" width="3" height="38" fill="#32cd32"/>
<rect x="777" y="351" width="1" height="38" fill="#32cd32"/>
<rect x="776" y="355" width="3" height="7" fill="#32cd32"/>
<rect x="781" y="360" width="1" height="17" fill="#32cd32"/>
<rect x="780" y="361" width="3" height="6" fill="#32cd32"/>
<rect x="785" y="339" width="1" height="41" fill="#ff0000"/>
<rect x="784" y="356" width="3" height="20" fill="#ff0000"/>
<rect x="785" y="357" width="1" height="18" fill="#ff4500"/>
<rect x="789" y="318" width="1" height="41" fill="#ff0000"/>
<rect x="788" y="344" width="3" height="12" fill="#ff0000"/>
<rect x="789" y="345" width="1" height="10" fill="#ff4500"/>
<rect x="793" y="332" width="1" height="17" fill="#ff0000"/>
<rect x="792" y="332" width="3" height="14" fill="#ff0000"/>
<rect x="793" y="333" width="1" height="12" fill="#ff4500"/>
<rect x="797" y="337" width="1" height="24" fill="#32cd32"/>
<rect x="796" y="346" width="3" height="15" fill="#32cd32"/>
<rect x="801" y="328" width="1" height="40" fill="#ff0000"/>
<rect x="800" y="336" width="3" height="23" fill="#ff0000"/>
<rect x="801" y="337" width="1" height="21" fill="#ff4500"/>
<rect x="805" y="329" width="1" height="46" fill="#32cd32"/>
<rect x="804" y="335" width="3" height="13" fill="#32cd32"/>
<rect x="809" y="314" width="1" height="34" fill="#ff0000"/>
<rect x="808" y="328" width="3" height="20" fill="#ff0000"/>
<rect x="809" y="329" width="1" height="18" fill="#ff4500"/>
<rect x="813" y="304" width="1" height="33" fill="#ff0000"/>
<rect x="812" y="325" width="3" height="3" fill="#ff0000"/>
<rect x="813" y="326" width="1" height="1" fill="#ff4500"/>
<rect x="817" y="324" width="1" height="10" fill="#32cd32"/>
<rect x="816" y="325" width="3" height="8" fill="#32cd32"/>
<rect x="821" y="323" width="1" height="28" fill="#32cd32"/>
<rect x="820" y="329" width="3" height="15" fill="#32cd32"/>
<rect x="825" y="338" width="1" height="35" fill="#32cd32"/>
<rect x="824" y="342" width="3" height="21" fill="#32cd32"/>
<rect x="829" y="360" width="1" height="37" fill="#32cd32"/>
<rect x="828" y="362" width="3" height="24" fill="#32cd32"/>
<rect x="833" y="385" width="1" height="28" fill="#32cd32"/>
<rect x="832" y="385" width="3" height="8" fill="#32cd32"/>
<rect x="837" y="352" width="1" height="41" fill="#ff0000"/>
<rect x="836" y="365" width="3" height="28" fill="#ff0000"/>
<rect x="837" y="366" width="1" height="26" fill="#ff4500"/>
<rect x="841" y="361" width="1" height="7" fill="#32cd32"/>
<rect x="840" y="365" width="3" height="1" fill="#32cd32"/>
<rect x="845" y="350" width="1" height="19" fill="#ff0000"/>
<rect x="844" y="354" width="3" height="13" fill="#ff0000"/>
<rect x="845" y="355" width="1" height="11" fill="#ff4500"/>
<rect x="849" y="352" width="1" height="26" fill="#32cd32"/>
<rect x="848" y="353" width="3" height="14" fill="#32cd32"/>
<rect x="853" y="329" width="1" height="40" fill="#ff0000"/>
<rect x="852" y="349" width="3" height="18" fill="#ff0000"/>
<rect x="853" y="350" width="1" height="16" fill="#ff4500"/>
<rect x="857" y="348" width="1" height="25" fill="#32cd32"/>
<rect x="856" y="349" width="3" height="7" fill="#32cd32"/>
<rect x="861" y="338" width="1" height="22" fill="#ff0000"/>
<rect x="860" y="344" width="3" height="12" fill="#ff0000"/>
<rect x="861" y="345" width="1" height="10" fill="#ff4500"/>
<rect x="865" y="336" width="1" height="12" fill="#32cd32"/>
<rect x="864" y="343" width="3" height="3" fill="#32cd32"/>
<rect x="869" y="335" width="1" height="27" fill="#32cd32"/>
<rect x="868" y="349" width="3" height="3" fill="#32cd32"/>
<rect x="873" y="319" width="1" height="46" fill="#ff0000"/>
<rect x="872" y="322" width="3" height="30" fill="#ff0000"/>
<rect x="873" y="323" width="1" height="28" fill="#ff4500"/>
<rect x="877" y="301" width="1" height="31" fill="#ff0000"/>
<rect x="876" y="313" width="3" height="10" fill="#ff0000"/>
<rect x="877" y="314" width="1" height="8" fill="#ff4500"/>
<rect x="881" y="310" width="1" height="55" fill="#32cd32"/>
<rect x="880" y="313" width="3" height="49" fill="#32cd32"/>
<rect x="885" y="340" width="1" height="51" fill="#32cd32"/>
<rect x="884" y="362" width="3" height="29" fill="#32cd32"/>
<rect x="889" y="387" width="1" height="14" fill="#32cd32"/>
<rect x="888" y="390" width="3" height="9" fill="#32cd32"/>
<rect x="893" y="371" width="1" height="30" fill="#ff0000"/>
<rect x="892" y="378" width="3" height="22" fill="#ff0000"/>
<rect x="893" y="379" width="1" height="20" fill="#ff4500"/>
<rect x="897" y="350" width="1" height="38" fill="#ff0000"/>
<rect x="896" y="352" width="3" height="27" fill="#ff0000"/>
<rect x="897" y="353" width="1" height="25" fill="#ff4500"/>
<rect x="901" y="315" width="1" height="50" fill="#ff0000"/>
<rect x="900" y="327" width="3" height="25" fill="#ff0000"/>
<rect x="901" y="328" width="1" height="23" fill="#ff4500"/>
<rect x="905" y="309" width="1" height="26" fill="#ff0000"/>
<rect x="904" y="314" width="3" height="14" fill="#ff0000"/>
<rect x="905" y="315" width="1" height="12" fill="#ff4500"/>
<rect x="909" y="299" width="1" height="23" fill="#ff0000"/>
<rect x="908" y="304" width="3" height="11" fill="#ff0000"/>
<rect x="909" y="305" width="1" height="9" fill="#ff4500"/>
<rect x="913" y="291" width="1" height="15" fill="#ff0000"/>
<rect x="912" y="297" width="3" height="8" fill="#ff0000"/>
<rect x="913" y="298" width="1" height="6" fill="#ff4500"/>
<rect x="917" y="289" width="1" height="16" fill="#ff0000"/>
<rect x="916" y="298" width="3" height="7" fill="#ff0000"/>
<rect x="917" y="299" width="1" height="5" fill="#ff4500"/>
<rect x="921" y="285" width="1" height="18" fill="#ff0000"/>
<rect x="920" y="298" width="3" height="2" fill="#ff0000"/>
<rect x="925" y="297" width="1" height="17" fill="#32cd32"/>
<rect x="924" y="298" width="3" height="15" fill="#32cd32"/>
</g>
<rect x="4" y="143" width="6" height="6" fill="#ff0000"/>
<rect x="6" y="145" width="2" height="2" fill="#fff"/>
<rect x="1161" y="143" width="6" height="6" fill="#ff0000"/>
<rect x="1163" y="145" width="2" height="2" fill="#fff"/>
<rect x="4" y="299" width="6" height="6" fill="#00ff00"/>
<rect x="6" y="301" width="2" height="2" fill="#fff"/>
<rect x="1161" y="299" width="6" height="6" fill="#00ff00"/>
<rect x="1163" y="301" width="2" height="2" fill="#fff"/>
<rect x="4" y="413" width="6" height="6" fill="#0000ff"/>
<rect x="6" y="415" width="2" height="2" fill="#fff"/>
<rect x="1161" y="413" width="6" height="6" fill="#0000ff"/>
<rect x="1163" y="415" width="2" height="2" fill="#fff"/>
<text x="20.3" y="37" font-size="10" fill="#000" text-anchor="start" font-weight="normal" textLength="64" lengthAdjust="spacingAndGlyphs" stroke="#000" stroke-width="0.15">USDCHF,Daily</text>
<text x="91" y="37" font-size="10" fill="#000" text-anchor="start" font-weight="normal" textLength="140.6" lengthAdjust="spacingAndGlyphs" stroke="#000" stroke-width="0.15">0.97700 0.97716 0.97496 0.97513</text>
<path d="M7.8,36.4 L11.6,31.6 L15.4,36.4 Z" fill="#000" shape-rendering="geometricPrecision"/>
<rect x="8" y="109" width="221" height="2" fill="#fff"/>
<rect x="8" y="45" width="51" height="25" fill="url(#gbtn)"/>
<rect x="175" y="45" width="52" height="25" fill="url(#gbtn)"/>
<rect x="8" y="69" width="109" height="40" fill="url(#gprice)"/>
<rect x="119" y="69" width="108" height="40" fill="url(#gprice)"/>
<rect x="8" y="45" width="1" height="64" fill="#1010c0"/>
<rect x="8" y="45" width="51" height="1" fill="#1414bc"/>
<rect x="58" y="45" width="1" height="24" fill="#1818c8"/>
<rect x="175" y="45" width="1" height="24" fill="#1818c8"/>
<rect x="226" y="45" width="1" height="64" fill="#1010c0"/>
<rect x="175" y="45" width="52" height="1" fill="#1414bc"/>
<rect x="116" y="69" width="1" height="40" fill="#0c0cb0"/>
<rect x="119" y="69" width="1" height="40" fill="#0c0cb0"/>
<rect x="59" y="45" width="116" height="24" fill="#ffffff"/>
<rect x="62.5" y="45.5" width="110" height="21" fill="#fff" stroke="#b8b8b8"/>
<rect x="63" y="46" width="20" height="20" fill="url(#gspin)"/>
<rect x="152" y="46" width="20" height="20" fill="url(#gspin)"/>
<rect x="83" y="46" width="1" height="20" fill="#c0c0c0"/>
<rect x="151" y="46" width="1" height="20" fill="#c0c0c0"/>
<rect x="63.5" y="46.5" width="19" height="19" fill="none" stroke="#e8e8e8"/>
<rect x="152.5" y="46.5" width="19" height="19" fill="none" stroke="#e8e8e8"/>
<path d="M70,54 L76,54 L73,57.5 Z" fill="#4a58b8" shape-rendering="geometricPrecision"/>
<path d="M159,57.5 L165,57.5 L162,54 Z" fill="#4a58b8" shape-rendering="geometricPrecision"/>
<text x="147.8" y="61" font-size="13.5" fill="#000" text-anchor="end" font-weight="normal" textLength="23.5" lengthAdjust="spacingAndGlyphs">5.00</text>
<rect x="12" y="68" width="44" height="1" fill="#2020b4"/>
<rect x="179" y="68" width="44" height="1" fill="#2020b4"/>
<rect x="12" y="69" width="44" height="1" fill="#8c8cf4"/>
<rect x="179" y="69" width="44" height="1" fill="#8c8cf4"/>
<text x="20.3" y="61.3" font-size="13.3" fill="#fff" text-anchor="start" font-weight="normal" textLength="25.7" lengthAdjust="spacingAndGlyphs">SELL</text>
<text x="188.6" y="61.3" font-size="13.3" fill="#fff" text-anchor="start" font-weight="normal" textLength="23.4" lengthAdjust="spacingAndGlyphs">BUY</text>
<text x="27.9" y="99.7" font-size="12.2" fill="#fff" text-anchor="start" font-weight="bold" textLength="23" lengthAdjust="spacingAndGlyphs">0.97</text>
<text x="138" y="99.7" font-size="12.2" fill="#fff" text-anchor="start" font-weight="bold" textLength="23.3" lengthAdjust="spacingAndGlyphs">0.97</text>
<text x="56.9" y="99.7" font-size="34.5" fill="#fff" text-anchor="start" font-weight="normal" textLength="33.1" lengthAdjust="spacingAndGlyphs">51</text>
<text x="168.5" y="99.7" font-size="34.5" fill="#fff" text-anchor="start" font-weight="normal" textLength="31.5" lengthAdjust="spacingAndGlyphs">53</text>
<text x="95.5" y="83.6" font-size="10.5" fill="#fff" text-anchor="start" font-weight="bold" textLength="6.2" lengthAdjust="spacingAndGlyphs">3</text>
<text x="206.8" y="83.6" font-size="10.5" fill="#fff" text-anchor="start" font-weight="bold" textLength="5.6" lengthAdjust="spacingAndGlyphs">5</text>
<rect x="1168" y="56" width="2" height="1" fill="#000"/>
<text x="1173.5" y="59.6" font-size="10" fill="#000" text-anchor="start" font-weight="normal" textLength="32.5" lengthAdjust="spacingAndGlyphs" stroke="#000" stroke-width="0.15">1.01050</text>
<rect x="1168" y="89" width="2" height="1" fill="#000"/>
<text x="1173.5" y="92.6" font-size="10" fill="#000" text-anchor="start" font-weight="normal" textLength="32.5" lengthAdjust="spacingAndGlyphs" stroke="#000" stroke-width="0.15">1.00590</text>
<rect x="1168" y="122" width="2" height="1" fill="#000"/>
<text x="1173.5" y="125.6" font-size="10" fill="#000" text-anchor="start" font-weight="normal" textLength="32.5" lengthAdjust="spacingAndGlyphs" stroke="#000" stroke-width="0.15">1.00140</text>
<rect x="1168" y="155" width="2" height="1" fill="#000"/>
<text x="1173.5" y="158.6" font-size="10" fill="#000" text-anchor="start" font-weight="normal" textLength="32.5" lengthAdjust="spacingAndGlyphs" stroke="#000" stroke-width="0.15">0.99680</text>
<rect x="1168" y="188" width="2" height="1" fill="#000"/>
<text x="1173.5" y="192.1" font-size="10" fill="#000" text-anchor="start" font-weight="normal" textLength="32.5" lengthAdjust="spacingAndGlyphs" stroke="#000" stroke-width="0.15">0.99220</text>
<rect x="1168" y="221" width="2" height="1" fill="#000"/>
<text x="1173.5" y="224.6" font-size="10" fill="#000" text-anchor="start" font-weight="normal" textLength="32.5" lengthAdjust="spacingAndGlyphs" stroke="#000" stroke-width="0.15">0.98760</text>
<rect x="1168" y="254" width="2" height="1" fill="#000"/>
<text x="1173.5" y="258.1" font-size="10" fill="#000" text-anchor="start" font-weight="normal" textLength="32.5" lengthAdjust="spacingAndGlyphs" stroke="#000" stroke-width="0.15">0.98310</text>
<rect x="1168" y="287" width="2" height="1" fill="#000"/>
<text x="1173.5" y="290.6" font-size="10" fill="#000" text-anchor="start" font-weight="normal" textLength="32.5" lengthAdjust="spacingAndGlyphs" stroke="#000" stroke-width="0.15">0.97850</text>
<rect x="1168" y="320" width="2" height="1" fill="#000"/>
<text x="1173.5" y="324.1" font-size="10" fill="#000" text-anchor="start" font-weight="normal" textLength="32.5" lengthAdjust="spacingAndGlyphs" stroke="#000" stroke-width="0.15">0.97390</text>
<rect x="1168" y="353" width="2" height="1" fill="#000"/>
<text x="1173.5" y="357.1" font-size="10" fill="#000" text-anchor="start" font-weight="normal" textLength="32.5" lengthAdjust="spacingAndGlyphs" stroke="#000" stroke-width="0.15">0.96940</text>
<rect x="1168" y="386" width="2" height="1" fill="#000"/>
<text x="1173.5" y="389.6" font-size="10" fill="#000" text-anchor="start" font-weight="normal" textLength="32.5" lengthAdjust="spacingAndGlyphs" stroke="#000" stroke-width="0.15">0.96480</text>
<rect x="1168" y="419" width="2" height="1" fill="#000"/>
<text x="1173.5" y="422.6" font-size="10" fill="#000" text-anchor="start" font-weight="normal" textLength="32.5" lengthAdjust="spacingAndGlyphs" stroke="#000" stroke-width="0.15">0.96020</text>
<rect x="1169" y="38" width="40" height="11" fill="#ff0000"/>
<text x="1173.5" y="47" font-size="10" fill="#fff" text-anchor="start" font-weight="normal" textLength="32.5" lengthAdjust="spacingAndGlyphs">1.01211</text>
<rect x="1169" y="140" width="40" height="11" fill="#ff0000"/>
<text x="1173.5" y="149" font-size="10" fill="#fff" text-anchor="start" font-weight="normal" textLength="32.5" lengthAdjust="spacingAndGlyphs">0.99802</text>
<rect x="1169" y="296" width="40" height="11" fill="#00ff00"/>
<text x="1173.5" y="305" font-size="10" fill="#fff" text-anchor="start" font-weight="normal" textLength="32.5" lengthAdjust="spacingAndGlyphs">0.97648</text>
<rect x="1169" y="307" width="40" height="11" fill="#000000"/>
<text x="1173.5" y="316" font-size="10" fill="#fff" text-anchor="start" font-weight="normal" textLength="32.5" lengthAdjust="spacingAndGlyphs">0.97513</text>
<rect x="1169" y="410" width="40" height="11" fill="#0000ff"/>
<text x="1173.5" y="419" font-size="10" fill="#fff" text-anchor="start" font-weight="normal" textLength="32.5" lengthAdjust="spacingAndGlyphs">0.96073</text>
<g clip-path="url(#cmacd)">
<rect x="4" y="446" width="3" height="4" fill="#c0c0c0"/>
<rect x="8" y="446" width="3" height="5" fill="#c0c0c0"/>
<rect x="12" y="446" width="3" height="7" fill="#c0c0c0"/>
<rect x="16" y="446" width="3" height="8" fill="#c0c0c0"/>
<rect x="20" y="446" width="3" height="11" fill="#c0c0c0"/>
<rect x="24" y="446" width="3" height="14" fill="#c0c0c0"/>
<rect x="28" y="446" width="3" height="15" fill="#c0c0c0"/>
<rect x="32" y="446" width="3" height="13" fill="#c0c0c0"/>
<rect x="36" y="446" width="3" height="11" fill="#c0c0c0"/>
<rect x="40" y="446" width="3" height="11" fill="#c0c0c0"/>
<rect x="44" y="446" width="3" height="11" fill="#c0c0c0"/>
<rect x="48" y="446" width="3" height="13" fill="#c0c0c0"/>
<rect x="52" y="446" width="3" height="15" fill="#c0c0c0"/>
<rect x="56" y="446" width="3" height="20" fill="#c0c0c0"/>
<rect x="60" y="446" width="3" height="25" fill="#c0c0c0"/>
<rect x="64" y="446" width="3" height="29" fill="#c0c0c0"/>
<rect x="68" y="446" width="3" height="32" fill="#c0c0c0"/>
<rect x="72" y="446" width="3" height="35" fill="#c0c0c0"/>
<rect x="76" y="446" width="3" height="35" fill="#c0c0c0"/>
<rect x="80" y="446" width="3" height="34" fill="#c0c0c0"/>
<rect x="84" y="446" width="3" height="32" fill="#c0c0c0"/>
<rect x="88" y="446" width="3" height="29" fill="#c0c0c0"/>
<rect x="92" y="446" width="3" height="25" fill="#c0c0c0"/>
<rect x="96" y="446" width="3" height="21" fill="#c0c0c0"/>
<rect x="100" y="446" width="3" height="19" fill="#c0c0c0"/>
<rect x="104" y="446" width="3" height="16" fill="#c0c0c0"/>
<rect x="108" y="446" width="3" height="15" fill="#c0c0c0"/>
<rect x="112" y="446" width="3" height="21" fill="#c0c0c0"/>
<rect x="116" y="446" width="3" height="26" fill="#c0c0c0"/>
<rect x="120" y="446" width="3" height="32" fill="#c0c0c0"/>
<rect x="124" y="446" width="3" height="38" fill="#c0c0c0"/>
<rect x="128" y="446" width="3" height="41" fill="#c0c0c0"/>
<rect x="132" y="446" width="3" height="42" fill="#c0c0c0"/>
<rect x="136" y="446" width="3" height="42" fill="#c0c0c0"/>
<rect x="140" y="446" width="3" height="42" fill="#c0c0c0"/>
<rect x="144" y="446" width="3" height="42" fill="#c0c0c0"/>
<rect x="148" y="446" width="3" height="38" fill="#c0c0c0"/>
<rect x="152" y="446" width="3" height="32" fill="#c0c0c0"/>
<rect x="156" y="446" width="3" height="28" fill="#c0c0c0"/>
<rect x="160" y="446" width="3" height="25" fill="#c0c0c0"/>
<rect x="164" y="446" width="3" height="19" fill="#c0c0c0"/>
<rect x="168" y="446" width="3" height="14" fill="#c0c0c0"/>
<rect x="172" y="446" width="3" height="9" fill="#c0c0c0"/>
<rect x="176" y="446" width="3" height="6" fill="#c0c0c0"/>
<rect x="180" y="446" width="3" height="4" fill="#c0c0c0"/>
<rect x="184" y="446" width="3" height="4" fill="#c0c0c0"/>
<rect x="188" y="446" width="3" height="5" fill="#c0c0c0"/>
<rect x="192" y="446" width="3" height="7" fill="#c0c0c0"/>
<rect x="196" y="446" width="3" height="7" fill="#c0c0c0"/>
<rect x="200" y="446" width="3" height="6" fill="#c0c0c0"/>
<rect x="204" y="446" width="3" height="5" fill="#c0c0c0"/>
<rect x="208" y="446" width="3" height="5" fill="#c0c0c0"/>
<rect x="212" y="446" width="3" height="7" fill="#c0c0c0"/>
<rect x="216" y="446" width="3" height="9" fill="#c0c0c0"/>
<rect x="220" y="446" width="3" height="10" fill="#c0c0c0"/>
<rect x="224" y="446" width="3" height="10" fill="#c0c0c0"/>
<rect x="228" y="446" width="3" height="6" fill="#c0c0c0"/>
<rect x="232" y="446" width="3" height="5" fill="#c0c0c0"/>
<rect x="236" y="446" width="3" height="2" fill="#c0c0c0"/>
<rect x="240" y="444" width="3" height="2" fill="#c0c0c0"/>
<rect x="244" y="442" width="3" height="4" fill="#c0c0c0"/>
<rect x="248" y="441" width="3" height="5" fill="#c0c0c0"/>
<rect x="252" y="441" width="3" height="5" fill="#c0c0c0"/>
<rect x="256" y="439" width="3" height="7" fill="#c0c0c0"/>
<rect x="260" y="443" width="3" height="3" fill="#c0c0c0"/>
<rect x="264" y="446" width="3" height="2" fill="#c0c0c0"/>
<rect x="268" y="446" width="3" height="9" fill="#c0c0c0"/>
<rect x="272" y="446" width="3" height="12" fill="#c0c0c0"/>
<rect x="276" y="446" width="3" height="17" fill="#c0c0c0"/>
<rect x="280" y="446" width="3" height="19" fill="#c0c0c0"/>
<rect x="284" y="446" width="3" height="23" fill="#c0c0c0"/>
<rect x="288" y="446" width="3" height="25" fill="#c0c0c0"/>
<rect x="292" y="446" width="3" height="27" fill="#c0c0c0"/>
<rect x="296" y="446" width="3" height="26" fill="#c0c0c0"/>
<rect x="300" y="446" width="3" height="25" fill="#c0c0c0"/>
<rect x="304" y="446" width="3" height="24" fill="#c0c0c0"/>
<rect x="308" y="446" width="3" height="21" fill="#c0c0c0"/>
<rect x="312" y="446" width="3" height="19" fill="#c0c0c0"/>
<rect x="316" y="446" width="3" height="15" fill="#c0c0c0"/>
<rect x="320" y="446" width="3" height="14" fill="#c0c0c0"/>
<rect x="324" y="446" width="3" height="11" fill="#c0c0c0"/>
<rect x="328" y="446" width="3" height="8" fill="#c0c0c0"/>
<rect x="332" y="446" width="3" height="9" fill="#c0c0c0"/>
<rect x="336" y="446" width="3" height="11" fill="#c0c0c0"/>
<rect x="340" y="446" width="3" height="10" fill="#c0c0c0"/>
<rect x="344" y="446" width="3" height="8" fill="#c0c0c0"/>
<rect x="348" y="446" width="3" height="6" fill="#c0c0c0"/>
<rect x="352" y="446" width="3" height="2" fill="#c0c0c0"/>
<rect x="356" y="443" width="3" height="3" fill="#c0c0c0"/>
<rect x="360" y="438" width="3" height="8" fill="#c0c0c0"/>
<rect x="364" y="435" width="3" height="11" fill="#c0c0c0"/>
<rect x="368" y="435" width="3" height="11" fill="#c0c0c0"/>
<rect x="372" y="437" width="3" height="9" fill="#c0c0c0"/>
<rect x="376" y="436" width="3" height="10" fill="#c0c0c0"/>
<rect x="380" y="436" width="3" height="10" fill="#c0c0c0"/>
<rect x="384" y="435" width="3" height="11" fill="#c0c0c0"/>
<rect x="388" y="433" width="3" height="13" fill="#c0c0c0"/>
<rect x="392" y="432" width="3" height="14" fill="#c0c0c0"/>
<rect x="396" y="430" width="3" height="16" fill="#c0c0c0"/>
<rect x="400" y="430" width="3" height="16" fill="#c0c0c0"/>
<rect x="404" y="431" width="3" height="15" fill="#c0c0c0"/>
<rect x="408" y="431" width="3" height="15" fill="#c0c0c0"/>
<rect x="412" y="430" width="3" height="16" fill="#c0c0c0"/>
<rect x="416" y="430" width="3" height="16" fill="#c0c0c0"/>
<rect x="420" y="429" width="3" height="17" fill="#c0c0c0"/>
<rect x="424" y="429" width="3" height="17" fill="#c0c0c0"/>
<rect x="428" y="429" width="3" height="17" fill="#c0c0c0"/>
<rect x="432" y="430" width="3" height="16" fill="#c0c0c0"/>
<rect x="436" y="432" width="3" height="14" fill="#c0c0c0"/>
<rect x="440" y="435" width="3" height="11" fill="#c0c0c0"/>
<rect x="444" y="435" width="3" height="11" fill="#c0c0c0"/>
<rect x="448" y="435" width="3" height="11" fill="#c0c0c0"/>
<rect x="452" y="435" width="3" height="11" fill="#c0c0c0"/>
<rect x="456" y="437" width="3" height="9" fill="#c0c0c0"/>
<rect x="460" y="434" width="3" height="12" fill="#c0c0c0"/>
<rect x="464" y="434" width="3" height="12" fill="#c0c0c0"/>
<rect x="468" y="432" width="3" height="14" fill="#c0c0c0"/>
<rect x="472" y="431" width="3" height="15" fill="#c0c0c0"/>
<rect x="476" y="431" width="3" height="15" fill="#c0c0c0"/>
<rect x="480" y="432" width="3" height="14" fill="#c0c0c0"/>
<rect x="484" y="433" width="3" height="13" fill="#c0c0c0"/>
<rect x="488" y="433" width="3" height="13" fill="#c0c0c0"/>
<rect x="492" y="434" width="3" height="12" fill="#c0c0c0"/>
<rect x="496" y="435" width="3" height="11" fill="#c0c0c0"/>
<rect x="500" y="435" width="3" height="11" fill="#c0c0c0"/>
<rect x="504" y="434" width="3" height="12" fill="#c0c0c0"/>
<rect x="508" y="434" width="3" height="12" fill="#c0c0c0"/>
<rect x="512" y="434" width="3" height="12" fill="#c0c0c0"/>
<rect x="516" y="435" width="3" height="11" fill="#c0c0c0"/>
<rect x="520" y="440" width="3" height="6" fill="#c0c0c0"/>
<rect x="524" y="445" width="3" height="1" fill="#c0c0c0"/>
<rect x="528" y="446" width="3" height="4" fill="#c0c0c0"/>
<rect x="532" y="446" width="3" height="6" fill="#c0c0c0"/>
<rect x="536" y="446" width="3" height="7" fill="#c0c0c0"/>
<rect x="540" y="446" width="3" height="6" fill="#c0c0c0"/>
<rect x="544" y="446" width="3" height="5" fill="#c0c0c0"/>
<rect x="548" y="446" width="3" height="2" fill="#c0c0c0"/>
<rect x="552" y="446" width="3" height="1" fill="#c0c0c0"/>
<rect x="556" y="445" width="3" height="1" fill="#c0c0c0"/>
<rect x="560" y="444" width="3" height="2" fill="#c0c0c0"/>
<rect x="564" y="445" width="3" height="1" fill="#c0c0c0"/>
<rect x="568" y="446" width="3" height="2" fill="#c0c0c0"/>
<rect x="572" y="446" width="3" height="6" fill="#c0c0c0"/>
<rect x="576" y="446" width="3" height="8" fill="#c0c0c0"/>
<rect x="580" y="446" width="3" height="9" fill="#c0c0c0"/>
<rect x="584" y="446" width="3" height="7" fill="#c0c0c0"/>
<rect x="588" y="446" width="3" height="5" fill="#c0c0c0"/>
<rect x="592" y="445" width="3" height="1" fill="#c0c0c0"/>
<rect x="596" y="442" width="3" height="4" fill="#c0c0c0"/>
<rect x="600" y="442" width="3" height="4" fill="#c0c0c0"/>
<rect x="604" y="441" width="3" height="5" fill="#c0c0c0"/>
<rect x="608" y="444" width="3" height="2" fill="#c0c0c0"/>
<rect x="612" y="446" width="3" height="1" fill="#c0c0c0"/>
<rect x="616" y="446" width="3" height="2" fill="#c0c0c0"/>
<rect x="620" y="446" width="3" height="3" fill="#c0c0c0"/>
<rect x="624" y="446" width="3" height="4" fill="#c0c0c0"/>
<rect x="628" y="446" width="3" height="5" fill="#c0c0c0"/>
<rect x="632" y="446" width="3" height="3" fill="#c0c0c0"/>
<rect x="636" y="446" width="3" height="2" fill="#c0c0c0"/>
<rect x="640" y="446" width="3" height="1" fill="#c0c0c0"/>
<rect x="644" y="443" width="3" height="3" fill="#c0c0c0"/>
<rect x="648" y="441" width="3" height="5" fill="#c0c0c0"/>
<rect x="652" y="439" width="3" height="7" fill="#c0c0c0"/>
<rect x="656" y="437" width="3" height="9" fill="#c0c0c0"/>
<rect x="660" y="436" width="3" height="10" fill="#c0c0c0"/>
<rect x="664" y="435" width="3" height="11" fill="#c0c0c0"/>
<rect x="668" y="433" width="3" height="13" fill="#c0c0c0"/>
<rect x="672" y="436" width="3" height="10" fill="#c0c0c0"/>
<rect x="676" y="441" width="3" height="5" fill="#c0c0c0"/>
<rect x="680" y="446" width="3" height="1" fill="#c0c0c0"/>
<rect x="684" y="446" width="3" height="1" fill="#c0c0c0"/>
<rect x="688" y="446" width="3" height="2" fill="#c0c0c0"/>
<rect x="692" y="446" width="3" height="3" fill="#c0c0c0"/>
<rect x="696" y="446" width="3" height="4" fill="#c0c0c0"/>
<rect x="700" y="446" width="3" height="6" fill="#c0c0c0"/>
<rect x="704" y="446" width="3" height="8" fill="#c0c0c0"/>
<rect x="708" y="446" width="3" height="10" fill="#c0c0c0"/>
<rect x="712" y="446" width="3" height="11" fill="#c0c0c0"/>
<rect x="716" y="446" width="3" height="13" fill="#c0c0c0"/>
<rect x="720" y="446" width="3" height="14" fill="#c0c0c0"/>
<rect x="724" y="446" width="3" height="15" fill="#c0c0c0"/>
<rect x="728" y="446" width="3" height="18" fill="#c0c0c0"/>
<rect x="732" y="446" width="3" height="19" fill="#c0c0c0"/>
<rect x="736" y="446" width="3" height="21" fill="#c0c0c0"/>
<rect x="740" y="446" width="3" height="20" fill="#c0c0c0"/>
<rect x="744" y="446" width="3" height="19" fill="#c0c0c0"/>
<rect x="748" y="446" width="3" height="17" fill="#c0c0c0"/>
<rect x="752" y="446" width="3" height="18" fill="#c0c0c0"/>
<rect x="756" y="446" width="3" height="18" fill="#c0c0c0"/>
<rect x="760" y="446" width="3" height="19" fill="#c0c0c0"/>
<rect x="764" y="446" width="3" height="20" fill="#c0c0c0"/>
<rect x="768" y="446" width="3" height="23" fill="#c0c0c0"/>
<rect x="772" y="446" width="3" height="26" fill="#c0c0c0"/>
<rect x="776" y="446" width="3" height="29" fill="#c0c0c0"/>
<rect x="780" y="446" width="3" height="32" fill="#c0c0c0"/>
<rect x="784" y="446" width="3" height="32" fill="#c0c0c0"/>
<rect x="788" y="446" width="3" height="32" fill="#c0c0c0"/>
<rect x="792" y="446" width="3" height="31" fill="#c0c0c0"/>
<rect x="796" y="446" width="3" height="30" fill="#c0c0c0"/>
<rect x="800" y="446" width="3" height="28" fill="#c0c0c0"/>
<rect x="804" y="446" width="3" height="27" fill="#c0c0c0"/>
<rect x="808" y="446" width="3" height="26" fill="#c0c0c0"/>
<rect x="812" y="446" width="3" height="23" fill="#c0c0c0"/>
<rect x="816" y="446" width="3" height="22" fill="#c0c0c0"/>
<rect x="820" y="446" width="3" height="21" fill="#c0c0c0"/>
<rect x="824" y="446" width="3" height="21" fill="#c0c0c0"/>
<rect x="828" y="446" width="3" height="23" fill="#c0c0c0"/>
<rect x="832" y="446" width="3" height="24" fill="#c0c0c0"/>
<rect x="836" y="446" width="3" height="23" fill="#c0c0c0"/>
<rect x="840" y="446" width="3" height="22" fill="#c0c0c0"/>
<rect x="844" y="446" width="3" height="21" fill="#c0c0c0"/>
<rect x="848" y="446" width="3" height="20" fill="#c0c0c0"/>
<rect x="852" y="446" width="3" height="18" fill="#c0c0c0"/>
<rect x="856" y="446" width="3" height="16" fill="#c0c0c0"/>
<rect x="860" y="446" width="3" height="14" fill="#c0c0c0"/>
<rect x="864" y="446" width="3" height="13" fill="#c0c0c0"/>
<rect x="868" y="446" width="3" height="12" fill="#c0c0c0"/>
<rect x="872" y="446" width="3" height="9" fill="#c0c0c0"/>
<rect x="876" y="446" width="3" height="7" fill="#c0c0c0"/>
<rect x="880" y="446" width="3" height="6" fill="#c0c0c0"/>
<rect x="884" y="446" width="3" height="10" fill="#c0c0c0"/>
<rect x="888" y="446" width="3" height="10" fill="#c0c0c0"/>
<rect x="892" y="446" width="3" height="13" fill="#c0c0c0"/>
<rect x="896" y="446" width="3" height="10" fill="#c0c0c0"/>
<rect x="900" y="446" width="3" height="8" fill="#c0c0c0"/>
<rect x="904" y="446" width="3" height="5" fill="#c0c0c0"/>
<rect x="908" y="446" width="3" height="2" fill="#c0c0c0"/>
<rect x="912" y="444" width="3" height="2" fill="#c0c0c0"/>
<rect x="916" y="441" width="3" height="5" fill="#c0c0c0"/>
<rect x="920" y="440" width="3" height="6" fill="#c0c0c0"/>
<rect x="924" y="439" width="3" height="7" fill="#c0c0c0"/>
<path d="M16 448h2v1h-2zM250 448h3v1h-3zM553 448h34v1h-34zM603 448h4v1h-4zM711 448h2v1h-2zM922 448h2v1h-2zM391 434h6v1h-6zM458 434h13v1h-13zM514 434h7v1h-7zM30 453h3v1h-3zM196 453h2v1h-2zM226 453h7v1h-7zM284 453h2v1h-2zM354 453h2v1h-2zM721 453h2v1h-2zM906 453h4v1h-4zM7 444h2v1h-2zM260 444h11v1h-11zM370 444h2v1h-2zM545 444h2v1h-2zM661 444h2v1h-2zM703 444h2v1h-2zM14 447h2v1h-2zM253 447h2v1h-2zM276 447h2v1h-2zM364 447h2v1h-2zM551 447h2v1h-2zM607 447h4v1h-4zM641 447h15v1h-15zM709 447h2v1h-2zM924 447h2v1h-2zM77 469h2v1h-2zM112 469h6v1h-6zM123 469h3v1h-3zM783 469h3v1h-3zM831 469h6v1h-6zM5 443h2v1h-2zM372 443h2v1h-2zM542 443h3v1h-3zM663 443h2v1h-2zM701 443h2v1h-2zM62 461h2v1h-2zM294 461h2v1h-2zM332 461h2v1h-2zM741 461h2v1h-2zM874 461h2v1h-2zM83 472h2v1h-2zM102 472h3v1h-3zM792 472h4v1h-4zM820 472h3v1h-3zM9 445h2v1h-2zM258 445h2v1h-2zM271 445h3v1h-3zM368 445h2v1h-2zM547 445h2v1h-2zM618 445h19v1h-19zM658 445h3v1h-3zM705 445h2v1h-2zM69 465h2v1h-2zM301 465h3v1h-3zM323 465h2v1h-2zM764 465h8v1h-8zM859 465h5v1h-5zM387 436h2v1h-2zM523 436h3v1h-3zM27 452h3v1h-3zM198 452h5v1h-5zM221 452h5v1h-5zM233 452h5v1h-5zM356 452h2v1h-2zM719 452h2v1h-2zM910 452h4v1h-4zM21 450h3v1h-3zM242 450h4v1h-4zM359 450h2v1h-2zM594 450h5v1h-5zM715 450h2v1h-2zM917 450h3v1h-3zM413 431h8v1h-8zM443 431h5v1h-5zM382 438h2v1h-2zM528 438h2v1h-2zM675 438h14v1h-14zM46 457h5v1h-5zM289 457h2v1h-2zM342 457h4v1h-4zM732 457h3v1h-3zM882 457h4v1h-4zM18 449h3v1h-3zM246 449h4v1h-4zM279 449h2v1h-2zM361 449h2v1h-2zM587 449h7v1h-7zM599 449h4v1h-4zM713 449h2v1h-2zM920 449h2v1h-2zM36 455h4v1h-4zM192 455h2v1h-2zM349 455h3v1h-3zM726 455h3v1h-3zM893 455h7v1h-7zM421 430h22v1h-22zM66 463h2v1h-2zM297 463h2v1h-2zM327 463h2v1h-2zM747 463h7v1h-7zM868 463h3v1h-3zM57 459h3v1h-3zM336 459h3v1h-3zM737 459h2v1h-2zM878 459h2v1h-2zM75 468h2v1h-2zM118 468h5v1h-5zM313 468h6v1h-6zM780 468h3v1h-3zM837 468h8v1h-8zM24 451h3v1h-3zM203 451h18v1h-18zM238 451h4v1h-4zM717 451h2v1h-2zM914 451h3v1h-3zM141 480h2v1h-2zM378 440h2v1h-2zM533 440h3v1h-3zM670 440h3v1h-3zM693 440h4v1h-4zM167 477h2v1h-2zM79 470h2v1h-2zM109 470h3v1h-3zM126 470h2v1h-2zM786 470h3v1h-3zM827 470h4v1h-4zM90 475h2v1h-2zM95 475h2v1h-2zM804 475h9v1h-9zM11 446h3v1h-3zM255 446h3v1h-3zM274 446h2v1h-2zM366 446h2v1h-2zM549 446h2v1h-2zM611 446h7v1h-7zM637 446h4v1h-4zM656 446h2v1h-2zM707 446h2v1h-2zM380 439h2v1h-2zM530 439h3v1h-3zM673 439h2v1h-2zM689 439h4v1h-4zM397 433h8v1h-8zM453 433h5v1h-5zM471 433h43v1h-43zM299 464h2v1h-2zM325 464h2v1h-2zM754 464h10v1h-10zM864 464h4v1h-4zM60 460h2v1h-2zM334 460h2v1h-2zM739 460h2v1h-2zM876 460h2v1h-2zM40 456h6v1h-6zM190 456h2v1h-2zM346 456h3v1h-3zM729 456h3v1h-3zM886 456h7v1h-7zM73 467h2v1h-2zM306 467h7v1h-7zM319 467h2v1h-2zM776 467h4v1h-4zM845 467h7v1h-7zM85 473h2v1h-2zM100 473h2v1h-2zM131 473h2v1h-2zM796 473h4v1h-4zM817 473h3v1h-3zM71 466h2v1h-2zM304 466h2v1h-2zM321 466h2v1h-2zM772 466h4v1h-4zM852 466h7v1h-7zM33 454h3v1h-3zM194 454h2v1h-2zM352 454h2v1h-2zM723 454h3v1h-3zM900 454h6v1h-6zM405 432h8v1h-8zM448 432h5v1h-5zM384 437h3v1h-3zM526 437h2v1h-2zM64 462h2v1h-2zM182 462h2v1h-2zM329 462h3v1h-3zM743 462h4v1h-4zM871 462h3v1h-3zM51 458h6v1h-6zM187 458h2v1h-2zM339 458h3v1h-3zM735 458h2v1h-2zM880 458h2v1h-2zM81 471h2v1h-2zM105 471h4v1h-4zM128 471h2v1h-2zM789 471h3v1h-3zM823 471h4v1h-4zM374 442h2v1h-2zM539 442h3v1h-3zM665 442h3v1h-3zM699 442h2v1h-2zM87 474h3v1h-3zM97 474h3v1h-3zM800 474h4v1h-4zM813 474h4v1h-4zM389 435h2v1h-2zM521 435h2v1h-2zM148 484h4v1h-4zM155 484h4v1h-4zM376 441h2v1h-2zM536 441h3v1h-3zM668 441h2v1h-2zM697 441h2v1h-2zM144 482h2v1h-2zM146 483h2v1h-2zM159 483h2v1h-2zM92 476h3v1h-3zM135 476h2v1h-2zM139 479h2v1h-2zM152 485h3v1h-3zM162 481h2v1h-2zM363 448h1v1h-1zM138 478h1v1h-1zM164 480h1v1h-1zM134 475h1v1h-1zM176 468h1v1h-1zM133 474h1v1h-1zM286 454h1v1h-1zM175 469h1v2h-1zM68 464h1v1h-1zM178 466h1v1h-1zM358 451h1v1h-1zM281 450h1v1h-1zM166 478h1v1h-1zM170 475h1v1h-1zM296 462h1v1h-1zM291 458h1v1h-1zM292 459h1v1h-1zM177 467h1v1h-1zM172 473h1v1h-1zM161 482h1v1h-1zM165 479h1v1h-1zM180 464h1v1h-1zM130 472h1v1h-1zM184 461h1v1h-1zM287 455h1v1h-1zM169 476h1v1h-1zM282 451h1v1h-1zM293 460h1v1h-1zM283 452h1v1h-1zM179 465h1v1h-1zM137 477h1v1h-1zM278 448h1v1h-1zM186 459h1v1h-1zM174 471h1v1h-1zM288 456h1v1h-1zM171 474h1v1h-1zM181 463h1v1h-1zM185 460h1v1h-1zM143 481h1v1h-1zM189 457h1v1h-1zM173 472h1v1h-1z" fill="#ff0000"/>
</g>
<text x="9.5" y="437" font-size="10" fill="#000" text-anchor="start" font-weight="normal" textLength="150" lengthAdjust="spacingAndGlyphs" stroke="#000" stroke-width="0.15">MACD(12,26,9) 0.001126 -0.000252</text>
<text x="1171.6" y="435" font-size="10" fill="#000" text-anchor="start" font-weight="normal" textLength="37.5" lengthAdjust="spacingAndGlyphs" stroke="#000" stroke-width="0.15">0.003428</text>
<text x="1171.6" y="450" font-size="10" fill="#000" text-anchor="start" font-weight="normal" textLength="18.5" lengthAdjust="spacingAndGlyphs" stroke="#000" stroke-width="0.15">0.00</text>
<text x="1171" y="489" font-size="10" fill="#000" text-anchor="start" font-weight="normal" textLength="41" lengthAdjust="spacingAndGlyphs" stroke="#000" stroke-width="0.15">-0.007615</text>
<rect x="1168" y="426" width="1" height="1" fill="#000"/>
<rect x="1168" y="446" width="1" height="1" fill="#000"/>
<rect x="1168" y="491" width="1" height="1" fill="#000"/>
<g clip-path="url(#crsi)">
<line x1="5" y1="520.5" x2="1167" y2="520.5" stroke="#c0c0c0" stroke-width="1" stroke-dasharray="3,3"/>
<line x1="5" y1="553.5" x2="1167" y2="553.5" stroke="#c0c0c0" stroke-width="1" stroke-dasharray="3,3"/>
<path d="M33 538h2v1h-2zM101 538h2v1h-2zM149 538h12v1h-12zM205 538h2v1h-2zM228 538h3v1h-3zM312 538h3v1h-3zM540 538h2v1h-2zM237 528h5v1h-5zM358 528h2v1h-2zM365 528h2v1h-2zM394 528h2v1h-2zM418 528h2v1h-2zM469 528h5v1h-5zM512 528h2v1h-2zM596 528h3v1h-3zM649 528h6v1h-6zM911 528h7v1h-7zM21 548h2v1h-2zM80 548h2v1h-2zM527 548h3v1h-3zM718 548h2v1h-2zM824 548h2v1h-2zM61 554h2v1h-2zM116 554h4v1h-4zM37 540h3v1h-3zM621 540h5v1h-5zM695 540h2v1h-2zM853 540h3v1h-3zM859 540h2v1h-2zM868 540h2v1h-2zM767 551h2v1h-2zM828 551h3v1h-3zM252 534h2v1h-2zM327 534h3v1h-3zM456 534h2v1h-2zM546 534h2v1h-2zM588 534h2v1h-2zM189 541h9v1h-9zM210 541h2v1h-2zM333 541h3v1h-3zM613 541h3v1h-3zM619 541h2v1h-2zM626 541h2v1h-2zM856 541h3v1h-3zM23 549h2v1h-2zM53 549h2v1h-2zM734 549h2v1h-2zM790 549h2v1h-2zM356 529h2v1h-2zM388 529h6v1h-6zM411 529h7v1h-7zM474 529h2v1h-2zM503 529h9v1h-9zM647 529h2v1h-2zM908 529h3v1h-3zM918 529h5v1h-5zM183 536h2v1h-2zM202 536h2v1h-2zM317 536h3v1h-3zM323 536h2v1h-2zM438 536h2v1h-2zM639 536h2v1h-2zM213 543h7v1h-7zM264 543h2v1h-2zM300 543h2v1h-2zM685 543h3v1h-3zM700 543h2v1h-2zM745 543h3v1h-3zM817 543h2v1h-2zM847 543h2v1h-2zM165 532h3v1h-3zM176 532h2v1h-2zM245 532h3v1h-3zM352 532h2v1h-2zM381 532h4v1h-4zM401 532h5v1h-5zM445 532h3v1h-3zM452 532h2v1h-2zM480 532h8v1h-8zM493 532h5v1h-5zM549 532h6v1h-6zM874 532h3v1h-3zM902 532h2v1h-2zM168 531h4v1h-4zM385 531h2v1h-2zM406 531h2v1h-2zM431 531h2v1h-2zM448 531h4v1h-4zM477 531h3v1h-3zM498 531h2v1h-2zM555 531h2v1h-2zM558 531h2v1h-2zM904 531h2v1h-2zM180 535h3v1h-3zM325 535h2v1h-2zM345 535h5v1h-5zM585 535h3v1h-3zM637 535h2v1h-2zM18 547h3v1h-3zM50 547h2v1h-2zM285 547h3v1h-3zM292 547h2v1h-2zM523 547h4v1h-4zM530 547h2v1h-2zM724 547h2v1h-2zM756 547h2v1h-2zM888 547h2v1h-2zM63 555h2v1h-2zM120 555h2v1h-2zM773 555h3v1h-3zM10 539h2v1h-2zM35 539h2v1h-2zM40 539h2v1h-2zM207 539h2v1h-2zM225 539h3v1h-3zM306 539h2v1h-2zM340 539h2v1h-2zM861 539h7v1h-7zM248 533h4v1h-4zM377 533h4v1h-4zM434 533h2v1h-2zM454 533h2v1h-2zM488 533h5v1h-5zM605 533h5v1h-5zM872 533h2v1h-2zM172 530h3v1h-3zM256 530h2v1h-2zM408 530h3v1h-3zM425 530h6v1h-6zM500 530h3v1h-3zM593 530h2v1h-2zM645 530h2v1h-2zM906 530h2v1h-2zM923 530h2v1h-2zM16 546h2v1h-2zM48 546h2v1h-2zM288 546h4v1h-4zM521 546h2v1h-2zM574 546h2v1h-2zM681 546h2v1h-2zM705 546h3v1h-3zM721 546h3v1h-3zM753 546h3v1h-3zM758 546h2v1h-2zM803 546h2v1h-2zM885 546h3v1h-3zM57 552h2v1h-2zM133 552h13v1h-13zM786 552h2v1h-2zM831 552h3v1h-3zM93 537h8v1h-8zM103 537h2v1h-2zM309 537h3v1h-3zM315 537h2v1h-2zM320 537h3v1h-3zM542 537h2v1h-2zM87 544h3v1h-3zM220 544h2v1h-2zM570 544h2v1h-2zM580 544h2v1h-2zM688 544h2v1h-2zM712 544h2v1h-2zM743 544h2v1h-2zM748 544h3v1h-3zM819 544h2v1h-2zM842 544h2v1h-2zM128 558h2v1h-2zM67 557h7v1h-7zM123 557h2v1h-2zM780 557h2v1h-2zM59 553h2v1h-2zM113 553h3v1h-3zM770 553h2v1h-2zM360 527h5v1h-5zM396 527h2v1h-2zM461 527h2v1h-2zM599 527h3v1h-3zM655 527h2v1h-2zM664 527h4v1h-4zM657 526h7v1h-7zM668 526h4v1h-4zM46 545h2v1h-2zM84 545h3v1h-3zM282 545h2v1h-2zM572 545h2v1h-2zM576 545h4v1h-4zM703 545h2v1h-2zM708 545h4v1h-4zM741 545h2v1h-2zM751 545h2v1h-2zM801 545h2v1h-2zM837 545h5v1h-5zM65 556h2v1h-2zM776 556h4v1h-4zM730 550h2v1h-2zM765 550h2v1h-2zM261 542h3v1h-3zM297 542h3v1h-3zM302 542h2v1h-2zM336 542h2v1h-2zM616 542h3v1h-3zM698 542h2v1h-2zM809 542h8v1h-8zM845 542h2v1h-2zM126 559h2v1h-2zM672 525h2v1h-2zM733 548h1v1h-1zM224 540h1v1h-1zM797 551h1v1h-1zM148 540h1v4h-1zM717 549h1v1h-1zM330 535h1v2h-1zM569 543h1v1h-1zM175 531h1v1h-1zM676 533h1v3h-1zM896 538h1v2h-1zM877 533h1v2h-1zM869 539h1v1h-1zM460 528h1v2h-1zM8 539h1v1h-1zM740 546h1v2h-1zM147 544h1v3h-1zM243 530h1v1h-1zM850 543h1v1h-1zM56 551h1v1h-1zM163 534h1v1h-1zM592 531h1v1h-1zM235 531h1v1h-1zM258 531h1v3h-1zM444 533h1v2h-1zM26 546h1v1h-1zM79 549h1v1h-1zM604 531h1v2h-1zM376 534h1v1h-1zM110 543h1v3h-1zM91 540h1v2h-1zM629 543h1v1h-1zM83 546h1v1h-1zM782 556h1v1h-1zM295 544h1v2h-1zM387 530h1v1h-1zM892 544h1v1h-1zM329 533h1v1h-1zM273 544h1v1h-1zM800 546h1v2h-1zM55 550h1v1h-1zM884 545h1v1h-1zM581 543h1v1h-1zM519 540h1v2h-1zM436 534h1v1h-1zM762 545h1v2h-1zM268 549h1v2h-1zM826 549h1v1h-1zM367 529h1v1h-1zM763 547h1v1h-1zM827 550h1v1h-1zM900 534h1v1h-1zM462 528h1v1h-1zM534 544h1v1h-1zM785 553h1v1h-1zM807 544h1v2h-1zM368 530h1v1h-1zM200 536h1v2h-1zM463 529h1v1h-1zM265 544h1v1h-1zM789 550h1v1h-1zM603 530h1v1h-1zM644 531h1v2h-1zM895 540h1v1h-1zM279 546h1v1h-1zM561 533h1v1h-1zM459 530h1v2h-1zM793 547h1v1h-1zM146 547h1v4h-1zM835 548h1v2h-1zM242 529h1v1h-1zM261 541h1v1h-1zM872 534h1v1h-1zM231 536h1v2h-1zM675 530h1v3h-1zM212 542h1v1h-1zM223 541h1v2h-1zM876 531h1v1h-1zM112 549h1v3h-1zM29 541h1v2h-1zM693 540h1v1h-1zM690 543h1v1h-1zM371 534h1v1h-1zM130 557h1v1h-1zM538 540h1v1h-1zM822 546h1v1h-1zM925 531h1v1h-1zM739 548h1v1h-1zM162 535h1v2h-1zM633 539h1v1h-1zM772 554h1v1h-1zM823 547h1v1h-1zM890 546h1v1h-1zM260 538h1v3h-1zM761 544h1v1h-1zM518 537h1v3h-1zM557 530h1v1h-1zM267 547h1v2h-1zM370 533h1v1h-1zM602 528h1v2h-1zM560 532h1v1h-1zM582 541h1v2h-1zM465 532h1v1h-1zM111 546h1v3h-1zM799 548h1v1h-1zM898 536h1v1h-1zM257 529h1v1h-1zM105 536h1v1h-1zM871 535h1v2h-1zM852 541h1v1h-1zM43 541h1v2h-1zM849 544h1v1h-1zM677 536h1v3h-1zM351 533h1v1h-1zM339 540h1v1h-1zM92 538h1v2h-1zM697 541h1v1h-1zM5 542h1v1h-1zM591 532h1v1h-1zM355 530h1v1h-1zM764 548h1v2h-1zM458 532h1v2h-1zM544 536h1v1h-1zM836 546h1v2h-1zM533 545h1v1h-1zM784 554h1v1h-1zM122 556h1v1h-1zM199 538h1v1h-1zM369 531h1v2h-1zM681 547h1v1h-1zM32 537h1v1h-1zM294 546h1v1h-1zM674 527h1v3h-1zM13 541h1v2h-1zM738 549h1v2h-1zM563 535h1v2h-1zM564 537h1v1h-1zM806 546h1v1h-1zM255 531h1v2h-1zM879 538h1v2h-1zM274 545h1v1h-1zM631 541h1v1h-1zM244 531h1v1h-1zM643 533h1v2h-1zM520 542h1v3h-1zM266 545h1v2h-1zM894 541h1v2h-1zM548 533h1v1h-1zM269 551h1v1h-1zM343 537h1v1h-1zM259 534h1v4h-1zM278 547h1v1h-1zM373 537h1v1h-1zM680 544h1v2h-1zM304 541h1v1h-1zM464 530h1v2h-1zM12 540h1v1h-1zM642 535h1v2h-1zM107 538h1v2h-1zM308 538h1v1h-1zM612 539h1v2h-1zM42 540h1v1h-1zM198 539h1v2h-1zM437 535h1v1h-1zM878 535h1v3h-1zM31 538h1v2h-1zM692 541h1v1h-1zM798 549h1v2h-1zM870 537h1v2h-1zM372 535h1v2h-1zM517 534h1v3h-1zM132 553h1v2h-1zM15 544h1v2h-1zM635 537h1v1h-1zM726 548h1v1h-1zM897 537h1v1h-1zM679 541h1v3h-1zM562 534h1v1h-1zM585 536h1v1h-1zM794 548h1v1h-1zM164 533h1v1h-1zM52 548h1v1h-1zM106 537h1v1h-1zM399 529h1v2h-1zM433 532h1v1h-1zM683 545h1v1h-1zM611 537h1v2h-1zM760 545h1v1h-1zM467 530h1v1h-1zM90 542h1v2h-1zM421 526h1v1h-1zM732 549h1v1h-1zM75 554h1v1h-1zM422 527h1v1h-1zM14 543h1v1h-1zM851 542h1v1h-1zM7 540h1v1h-1zM185 537h1v1h-1zM565 538h1v1h-1zM805 547h1v1h-1zM535 543h1v1h-1zM186 538h1v1h-1zM209 540h1v1h-1zM398 528h1v1h-1zM44 543h1v1h-1zM881 542h1v1h-1zM630 542h1v1h-1zM25 547h1v2h-1zM45 544h1v1h-1zM736 550h1v1h-1zM78 550h1v1h-1zM204 537h1v1h-1zM584 537h1v2h-1zM113 552h1v1h-1zM834 550h1v2h-1zM82 547h1v1h-1zM272 545h1v2h-1zM720 547h1v1h-1zM702 544h1v1h-1zM641 537h1v1h-1zM880 540h1v2h-1zM769 552h1v1h-1zM516 532h1v2h-1zM808 543h1v1h-1zM254 533h1v1h-1zM109 541h1v2h-1zM714 545h1v1h-1zM694 539h1v1h-1zM131 555h1v2h-1zM280 545h1v1h-1zM899 535h1v1h-1zM595 529h1v1h-1zM375 535h1v1h-1zM610 535h1v2h-1zM178 533h1v1h-1zM234 532h1v1h-1zM788 551h1v1h-1zM443 535h1v1h-1zM891 545h1v1h-1zM728 550h1v1h-1zM795 549h1v1h-1zM678 539h1v2h-1zM108 540h1v1h-1zM796 550h1v1h-1zM74 555h1v2h-1zM222 543h1v1h-1zM275 546h1v1h-1zM466 531h1v1h-1zM276 547h1v1h-1zM28 543h1v1h-1zM792 548h1v1h-1zM537 541h1v1h-1zM423 528h1v1h-1zM715 546h1v2h-1zM727 549h1v1h-1zM161 537h1v1h-1zM515 531h1v1h-1zM632 540h1v1h-1zM424 529h1v1h-1zM716 548h1v1h-1zM77 551h1v2h-1zM457 535h1v1h-1zM583 539h1v2h-1zM332 539h1v2h-1zM145 551h1v1h-1zM271 547h1v2h-1zM442 536h1v2h-1zM400 531h1v1h-1zM609 534h1v1h-1zM568 542h1v1h-1zM420 527h1v1h-1zM883 544h1v1h-1zM9 538h1v1h-1zM6 541h1v1h-1zM461 526h1v1h-1zM514 529h1v2h-1zM344 536h1v1h-1zM545 535h1v1h-1zM628 542h1v1h-1zM350 534h1v1h-1zM567 540h1v2h-1zM233 533h1v2h-1zM476 530h1v1h-1zM236 529h1v2h-1zM590 533h1v1h-1zM882 543h1v1h-1zM331 537h1v2h-1zM521 545h1v1h-1zM374 536h1v1h-1zM532 546h1v1h-1zM783 555h1v1h-1zM187 539h1v1h-1zM305 540h1v1h-1zM188 540h1v1h-1zM149 539h1v1h-1zM673 526h1v1h-1zM27 544h1v2h-1zM270 549h1v2h-1zM354 531h1v1h-1zM566 539h1v1h-1zM338 541h1v1h-1zM636 536h1v1h-1zM893 543h1v1h-1zM821 545h1v1h-1zM277 548h1v1h-1zM737 551h1v1h-1zM844 543h1v1h-1zM179 534h1v1h-1zM901 533h1v1h-1zM684 544h1v1h-1zM468 529h1v1h-1zM76 553h1v1h-1zM729 551h1v1h-1zM342 538h1v1h-1zM30 540h1v1h-1zM125 558h1v1h-1zM691 542h1v1h-1zM201 535h1v1h-1zM539 539h1v1h-1zM296 543h1v1h-1zM634 538h1v1h-1zM536 542h1v1h-1zM281 544h1v1h-1zM440 537h1v1h-1zM284 546h1v1h-1zM232 535h1v1h-1zM441 538h1v1h-1z" fill="#1e90ff"/>
</g>
<text x="10" y="507" font-size="10" fill="#000" text-anchor="start" font-weight="normal" textLength="67" lengthAdjust="spacingAndGlyphs" stroke="#000" stroke-width="0.15">RSI(14) 55.2853</text>
<text x="1171.6" y="505" font-size="10" fill="#000" text-anchor="start" font-weight="normal" textLength="14.4" lengthAdjust="spacingAndGlyphs" stroke="#000" stroke-width="0.15">100</text>
<text x="1171.6" y="524" font-size="10" fill="#000" text-anchor="start" font-weight="normal" textLength="9.6" lengthAdjust="spacingAndGlyphs" stroke="#000" stroke-width="0.15">70</text>
<text x="1171.6" y="557" font-size="10" fill="#000" text-anchor="start" font-weight="normal" textLength="9.6" lengthAdjust="spacingAndGlyphs" stroke="#000" stroke-width="0.15">30</text>
<text x="1171.6" y="575" font-size="10" fill="#000" text-anchor="start" font-weight="normal" textLength="4.8" lengthAdjust="spacingAndGlyphs" stroke="#000" stroke-width="0.15">0</text>
<rect x="1168" y="496" width="1" height="1" fill="#000"/>
<rect x="5" y="579" width="1" height="3" fill="#000"/>
<text x="4.5" y="591" font-size="10" fill="#000" text-anchor="start" font-weight="normal" textLength="55" lengthAdjust="spacingAndGlyphs" stroke="#000" stroke-width="0.15">20 May 2019</text>
<rect x="69" y="579" width="1" height="3" fill="#000"/>
<text x="68.5" y="591" font-size="10" fill="#000" text-anchor="start" font-weight="normal" textLength="44.5" lengthAdjust="spacingAndGlyphs" stroke="#000" stroke-width="0.15">7 Jun 2019</text>
<rect x="133" y="579" width="1" height="3" fill="#000"/>
<text x="132.5" y="591" font-size="10" fill="#000" text-anchor="start" font-weight="normal" textLength="49" lengthAdjust="spacingAndGlyphs" stroke="#000" stroke-width="0.15">26 Jun 2019</text>
<rect x="197" y="579" width="1" height="3" fill="#000"/>
<text x="196.5" y="591" font-size="10" fill="#000" text-anchor="start" font-weight="normal" textLength="45.5" lengthAdjust="spacingAndGlyphs" stroke="#000" stroke-width="0.15">15 Jul 2019</text>
<rect x="261" y="579" width="1" height="3" fill="#000"/>
<text x="260.5" y="591" font-size="10" fill="#000" text-anchor="start" font-weight="normal" textLength="47" lengthAdjust="spacingAndGlyphs" stroke="#000" stroke-width="0.15">2 Aug 2019</text>
<rect x="325" y="579" width="1" height="3" fill="#000"/>
<text x="324.5" y="591" font-size="10" fill="#000" text-anchor="start" font-weight="normal" textLength="52" lengthAdjust="spacingAndGlyphs" stroke="#000" stroke-width="0.15">21 Aug 2019</text>
<rect x="389" y="579" width="1" height="3" fill="#000"/>
<text x="388.5" y="591" font-size="10" fill="#000" text-anchor="start" font-weight="normal" textLength="46.5" lengthAdjust="spacingAndGlyphs" stroke="#000" stroke-width="0.15">9 Sep 2019</text>
<rect x="453" y="579" width="1" height="3" fill="#000"/>
<text x="452.5" y="591" font-size="10" fill="#000" text-anchor="start" font-weight="normal" textLength="50.5" lengthAdjust="spacingAndGlyphs" stroke="#000" stroke-width="0.15">27 Sep 2019</text>
<rect x="517" y="579" width="1" height="3" fill="#000"/>
<text x="516.5" y="591" font-size="10" fill="#000" text-anchor="start" font-weight="normal" textLength="50" lengthAdjust="spacingAndGlyphs" stroke="#000" stroke-width="0.15">16 Oct 2019</text>
<rect x="581" y="579" width="1" height="3" fill="#000"/>
<text x="580.5" y="591" font-size="10" fill="#000" text-anchor="start" font-weight="normal" textLength="49" lengthAdjust="spacingAndGlyphs" stroke="#000" stroke-width="0.15">4 Nov 2019</text>
<rect x="645" y="579" width="1" height="3" fill="#000"/>
<text x="644.5" y="591" font-size="10" fill="#000" text-anchor="start" font-weight="normal" textLength="52.5" lengthAdjust="spacingAndGlyphs" stroke="#000" stroke-width="0.15">22 Nov 2019</text>
<rect x="709" y="579" width="1" height="3" fill="#000"/>
<text x="708.5" y="591" font-size="10" fill="#000" text-anchor="start" font-weight="normal" textLength="50.5" lengthAdjust="spacingAndGlyphs" stroke="#000" stroke-width="0.15">11 Dec 2019</text>
<rect x="773" y="579" width="1" height="3" fill="#000"/>
<text x="772.5" y="591" font-size="10" fill="#000" text-anchor="start" font-weight="normal" textLength="50" lengthAdjust="spacingAndGlyphs" stroke="#000" stroke-width="0.15">30 Dec 2019</text>
<rect x="837" y="579" width="1" height="3" fill="#000"/>
<text x="836.5" y="591" font-size="10" fill="#000" text-anchor="start" font-weight="normal" textLength="48.5" lengthAdjust="spacingAndGlyphs" stroke="#000" stroke-width="0.15">17 Jan 2020</text>
<rect x="901" y="579" width="1" height="3" fill="#000"/>
<text x="900.5" y="591" font-size="10" fill="#000" text-anchor="start" font-weight="normal" textLength="45" lengthAdjust="spacingAndGlyphs" stroke="#000" stroke-width="0.15">5 Feb 2020</text>
<rect x="0" y="599" width="1209" height="1" fill="#e0e0e0"/>
<rect x="0" y="600" width="1209" height="1" fill="#fff"/>
<rect x="0" y="601" width="1209" height="21" fill="#f0f0f0"/>
<rect x="0" y="601" width="1209" height="1" fill="#000"/>
<rect x="0" y="601" width="1" height="17" fill="#a0a0a0"/>
<rect x="1" y="601" width="1" height="17" fill="#808080"/>
<rect x="214" y="601" width="100" height="19" fill="#fff"/>
<rect x="214" y="601" width="1" height="19" fill="#000"/>
<rect x="313" y="601" width="1" height="19" fill="#000"/>
<rect x="214" y="619" width="100" height="1" fill="#000"/>
<text x="18.6" y="616.2" font-size="11.7" fill="#767676" text-anchor="start" font-weight="normal" textLength="79" lengthAdjust="spacingAndGlyphs">EURUSD,Daily</text>
<text x="121.6" y="616.2" font-size="11.7" fill="#767676" text-anchor="start" font-weight="normal" textLength="81.4" lengthAdjust="spacingAndGlyphs">AUDUSD,Daily</text>
<text x="224.6" y="616.2" font-size="11.7" fill="#000" text-anchor="start" font-weight="normal" textLength="78.4" lengthAdjust="spacingAndGlyphs">USDCHF,Daily</text>
<text x="325.3" y="616.2" font-size="11.7" fill="#767676" text-anchor="start" font-weight="normal" textLength="80.2" lengthAdjust="spacingAndGlyphs">USDCAD,Daily</text>
<text x="428.5" y="616.2" font-size="11.7" fill="#767676" text-anchor="start" font-weight="normal" textLength="82.5" lengthAdjust="spacingAndGlyphs">USDCNH,Daily</text>
<text x="533" y="616.2" font-size="11.7" fill="#767676" text-anchor="start" font-weight="normal" textLength="80.6" lengthAdjust="spacingAndGlyphs">XAUUSD,Daily</text>
<text x="636.7" y="616.2" font-size="11.7" fill="#767676" text-anchor="start" font-weight="normal" textLength="45.9" lengthAdjust="spacingAndGlyphs">DJ30,H4</text>
<text x="706.7" y="616.2" font-size="11.7" fill="#767676" text-anchor="start" font-weight="normal" textLength="70.7" lengthAdjust="spacingAndGlyphs">USDOil,Daily</text>
<text x="800.5" y="616.2" font-size="11.7" fill="#767676" text-anchor="start" font-weight="normal" textLength="77.9" lengthAdjust="spacingAndGlyphs">USDCHF,Daily</text>
<text x="902" y="616.2" font-size="11.7" fill="#767676" text-anchor="start" font-weight="normal" textLength="80.3" lengthAdjust="spacingAndGlyphs">GBPUSD,Daily</text>
<text x="1006" y="616.2" font-size="11.7" fill="#767676" text-anchor="start" font-weight="normal" textLength="67.8" lengthAdjust="spacingAndGlyphs">EURUSD,H1</text>
<text x="1097.3" y="616.2" font-size="11.7" fill="#767676" text-anchor="start" font-weight="normal" textLength="68" lengthAdjust="spacingAndGlyphs">GBPAUD,H1</text>
<rect x="110" y="604" width="1" height="14" fill="#808080"/>
<rect x="418" y="604" width="1" height="14" fill="#808080"/>
<rect x="522" y="604" width="1" height="14" fill="#808080"/>
<rect x="626" y="604" width="1" height="14" fill="#808080"/>
<rect x="694" y="604" width="1" height="14" fill="#808080"/>
<rect x="790" y="604" width="1" height="14" fill="#808080"/>
<rect x="890" y="604" width="1" height="14" fill="#808080"/>
<rect x="994" y="604" width="1" height="14" fill="#808080"/>
<rect x="1086" y="604" width="1" height="14" fill="#808080"/>
<path d="M1186,607.5 L1186,613.5 L1183,610.5 Z" fill="#a0a0a0" shape-rendering="geometricPrecision"/>
<path d="M1202,607.5 L1202,613.5 L1205,610.5 Z" fill="#000" shape-rendering="geometricPrecision"/>
</svg>
</body></html>
